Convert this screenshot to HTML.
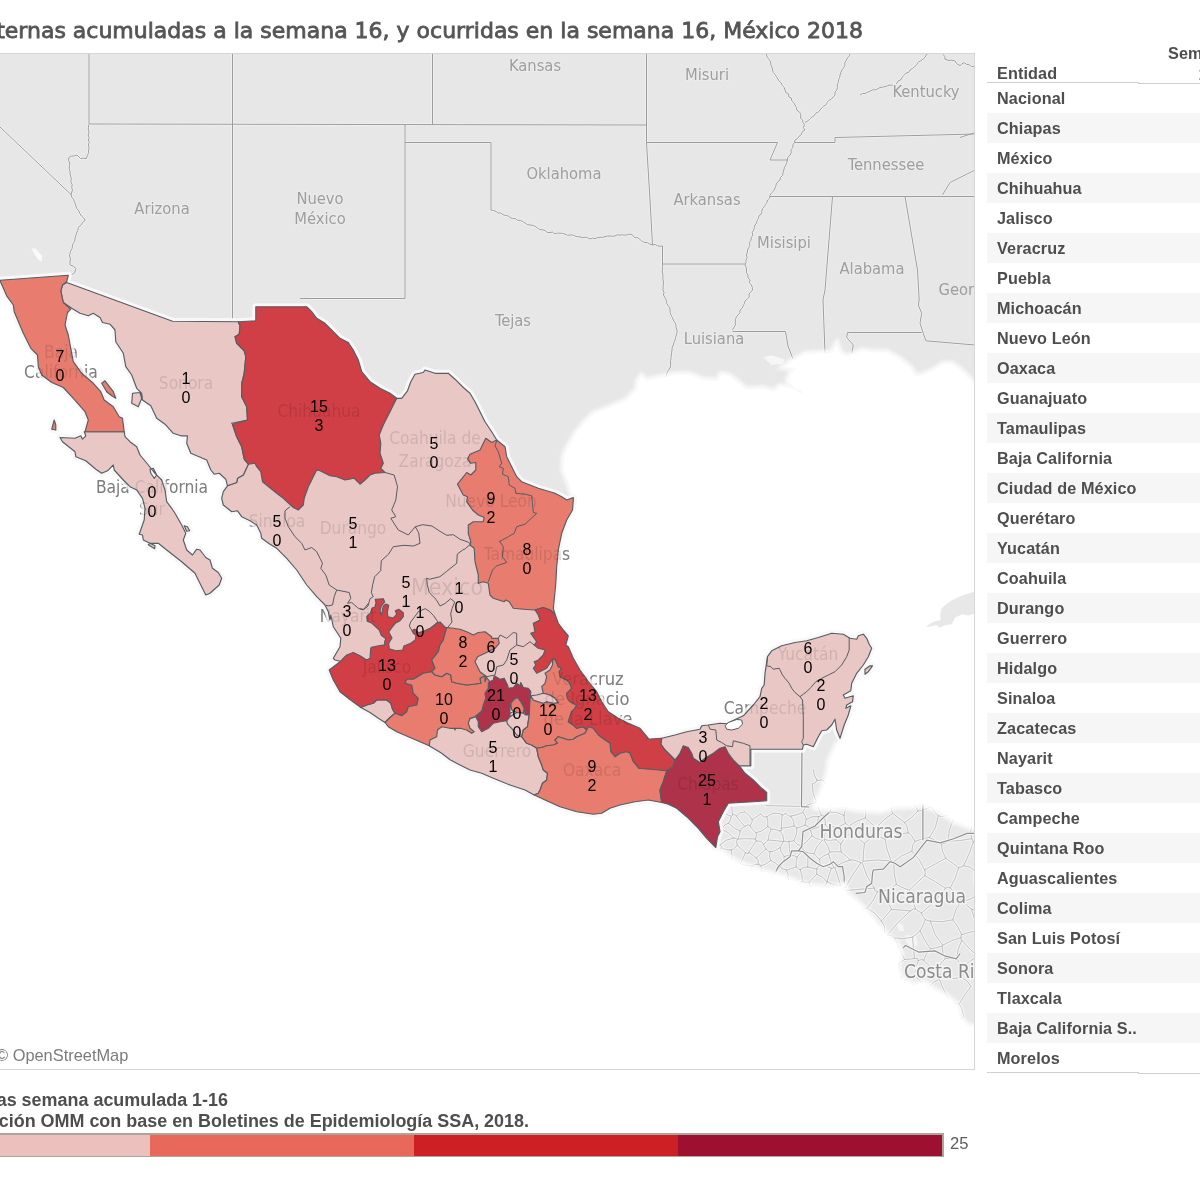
<!DOCTYPE html>
<html lang="es"><head><meta charset="utf-8"><title>Muertes maternas, México 2018</title>
<style>
html,body{margin:0;padding:0;background:#fff;}
body{width:1200px;height:1199px;position:relative;overflow:hidden;font-family:"Liberation Sans",sans-serif;}
.title{position:absolute;right:337px;top:17.5px;white-space:nowrap;font-family:"DejaVu Sans","Liberation Sans",sans-serif;font-weight:normal;font-size:22px;color:#555;line-height:26px;-webkit-text-stroke:0.8px #555;}
.tbl{position:absolute;left:987px;top:83px;width:213px;}
.r{height:30px;line-height:31px;padding-left:10px;font-weight:bold;font-size:16.2px;letter-spacing:0.12px;color:#4e4e4e;white-space:nowrap;box-sizing:border-box;}
.g{background:#f6f6f6;}
.hd{position:absolute;font-weight:bold;font-size:16.2px;letter-spacing:0.12px;color:#4e4e4e;white-space:nowrap;}
.cap{position:absolute;white-space:nowrap;font-weight:bold;font-size:17.95px;color:#4e4e4e;}
</style></head><body>
<div class="title">Muertes maternas acumuladas a la semana 16, y ocurridas en la semana 16, México 2018</div>
<svg width="976" height="1018" viewBox="0 53 976 1018" style="position:absolute;left:0;top:53px;">
<defs><filter id="bl" x="-5%" y="-5%" width="110%" height="110%"><feGaussianBlur stdDeviation="1.6"/></filter><clipPath id="fr"><rect x="0" y="53" width="975" height="1017"/></clipPath></defs>
<g clip-path="url(#fr)">
<rect x="0" y="53" width="975" height="1017" fill="#ffffff"/>
<path d="M-5 50 L980 50 L980 385 L975.8 386.7 L968.3 378.3 L960 370 L951.7 364.2 L943.3 364.2 L935 370 L923.3 375 L915 376.7 L910 368.3 L900 360 L886.7 352.5 L873.3 352.5 L861.7 350.8 L853.3 355 L846.7 356.7 L840 353.3 L836.7 345 L831.7 353.3 L821.7 353.3 L805 354.2 L798.3 358.3 L791.7 361.7 L785 366.7 L796.7 368.3 L791.7 373.3 L788.3 380 L795 388.3 L801.7 390 L803.1 395.2 L793.3 388.8 L780.3 386.6 L773.8 392 L763 388.8 L745.7 389.8 L737 382.2 L728.3 375.8 L721.8 374.7 L717.5 381.2 L702.3 380.1 L689.3 374.7 L676.3 374.7 L659 377.9 L646 381.2 L641.7 376.8 L638.4 381.2 L637.3 389.8 L626.5 400.7 L609.2 408.2 L594 413.7 L585.3 422.3 L576.7 433.2 L570.2 444 L564.8 454.8 L563.7 470 L569.1 483 L573.4 497.1 L560 505 L500 480 L400 440 L300 380 L200 360 L150 340 L80 300 L66 279 L-5 284Z" fill="#e7e7e7"/>
<path d="M763 357.3 L771.7 355.2 L784.7 359.5 L782.5 363.8 L771.7 364.9Z" fill="#f6f6f6"/>
<path d="M715.5 848.1 L734.7 861.4 L758.7 870.8 L780.1 876.1 L801.4 884.1 L814.8 886.8 L833.5 888.1 L844.1 885.5 L846.8 894.8 L854.8 900.2 L865.5 910.8 L876.2 924.2 L886.8 934.9 L897.5 945.5 L900.2 953.5 L897.5 966.9 L900.2 977.6 L913.5 985.6 L924.2 982.9 L934.9 990.9 L945.6 996.2 L956.2 1004.3 L960.2 1017.6 L966.9 1025.6 L978.9 1028.3 L978.9 828.1 L966.9 825.4 L953.6 820.1 L940.2 810.7 L922.9 804.1 L913.5 805.4 L892.2 806.7 L881.5 810.7 L860.2 809.4 L844.1 806.7 L828.1 808.1 L812.1 806.7 L815 806.7 L817 801.7 L821 793 L825 783 L828.3 772 L830 760 L835 750 L838 742 L836.7 730 L830 726.7 L820 733.3 L810 743.3 L786.7 743.3 L745 743.3 L736.7 763.3 L728.3 783.3Z" fill="#e8e8e8"/>
<path d="M925.4 626.7 L933.3 621.7 L940.8 620 L940 615 L941.7 608.3 L950.8 600.8 L963.3 595 L975.8 591.2 L975.8 613.3 L968.3 615.4 L962.5 614.2 L955 617.5 L951.7 624.2 L946.7 625 L939.2 627.5 L936.7 625 L930 626.7Z" fill="#e8e8e8"/>
<path d="M905.6 934.9L916.2 936.2L917.6 945.6L910.9 946.9L905.6 941.6Z M897.5 924.2L902.9 924.2L904.2 930.9L898.9 930.9Z" fill="#f5f5f5"/>
<path d="M89 53 L89 124 M89 124 L646.5 125 M232.5 53 L232.5 321 M432.5 53 L432.5 125 M405 125 L405 298.5 M405 142.5 L491 142.5 L491 210 M300 298.5 L405 298.5 M491 210 L493.5 210.6 L496 211.3 L498 213.1 L500.8 213 L502.9 214.7 L505.3 215.4 L507.9 215.8 L510 217.5 L512.5 218.5 L515.3 218.6 L517.5 220.2 L520.3 220.5 L522.8 221.5 L525 223 L527.3 224.6 L530 225 L532.7 225.3 L535.2 226.4 L537.4 228 L539.7 229.5 L542.5 229.8 L545.1 230.5 L547.2 232.4 L550 232.5 L552.6 232 L554.9 233.8 L557.5 233.1 L560.1 233.1 L562.6 233.4 L565 234 L567.4 235.3 L570 235 L572.6 234.9 L575 236.1 L577.5 236.7 L580 236.8 L582.5 237.6 L585.2 237.2 L587.7 237.7 L590 239 L592.4 238.1 L595 238.6 L597.5 237.7 L600 237.2 L602.5 237.3 L605 236.7 L607.4 236 L610 236 L612.6 236.3 L615 235.9 L617.5 234.8 L620 235.1 L622.5 234.8 L625.1 235.2 L627.5 234.7 L630 234 L632.7 235.1 L634.6 237.6 L637.8 237.7 L640.1 239.5 L642.3 241.5 L645 242.5 L647.7 242.7 L650 244.1 L652.5 245 L655.1 244.4 L657.5 245.8 L660 246.2 L662.5 246 M646.5 53 L646.5 142.5 L650 200 L652.5 245 M646.5 142.5 L777.5 142.5 L770 160 L787.5 160 M662.5 246 L662.5 264 L745 264 M662.5 264 L662.6 266.6 L662.6 269.2 L662.2 271.8 L662.9 274.3 L662.9 276.9 L662.9 279.5 L663.5 282.1 L663.2 284.7 L663.1 287.3 L662.9 289.8 L664 292.4 L663.5 295 L664.8 297.4 L666.2 299.8 L666.4 302.7 L667.6 305.1 L669.5 307.2 L670 310 L670.2 312.7 L671.1 315.2 L672.4 317.6 L673.3 320.1 L674.8 322.3 L675.9 324.8 L676.1 327.5 L677 330 L677 332.6 L676.2 335.1 L675.5 337.6 L675.1 340.2 L673.9 342.5 L673.3 345 L672.2 347.4 L672 350 L671.7 352.6 L671.2 355.1 L671.1 357.7 L670.6 360.3 L670.6 362.9 L670.6 365.5 L670 368 L668 370.7 L666.7 373.7 L666 377 M765 50 L766 52.5 L766.6 55.1 L767.5 57.6 L769.4 59.7 L770.6 62.2 L770.9 64.9 L772 67.3 L772.5 70 L773.4 72.6 L775 74.6 L776.5 76.8 L778 79 L779.2 81.3 L781.4 83 L782.3 85.5 L784.2 87.4 L785 90 L785.8 92.6 L788.6 93.8 L788.8 96.8 L791.4 98.1 L791.8 100.9 L793.8 102.7 L795 105 L796.4 107.4 L796.9 110.3 L799.6 112.1 L800.8 114.6 L800.5 117.9 L802.5 120 L803.1 122.5 L804.5 124.8 L803.4 127.7 L805 130 L802.4 131.4 L801.5 134.5 L799.1 136.1 L797.5 138.5 L795 140 L794.4 142.6 L792.9 144.9 L792.8 147.7 L790.9 149.9 L791.2 152.8 L790 155.2 L787.8 157.3 L787.5 160 L786.7 162.6 L785.8 165.1 L784.5 167.4 L783.8 170 L783 172.6 L782.8 175.3 L780.5 177.3 L780 180 L777.8 181.7 L776.4 183.9 L775.6 186.5 L774.7 189 L773.3 191.3 L771.3 193.1 L770 195.4 L769.5 198.2 L767.5 200 L766.8 202.5 L765.5 204.7 L764.1 206.8 L762.4 208.8 L761.8 211.4 L761.5 214.1 L759 215.6 L758.5 218.2 L757.2 220.4 L756.6 223 L755 225 L754.4 227.5 L753.7 230.1 L752.2 232.3 L752.8 235.2 L751.2 237.5 L751.1 240.2 L749.4 242.4 L749.9 245.3 L748.7 247.6 L747.5 250 L747.4 252.6 L746.4 255 L747.1 257.6 L745.9 260 L746 262.6 L745 265 L746.2 267.4 L746.5 270 L746.4 272.8 L748 275 L747.9 277.8 L750.1 279.8 L749.4 282.7 L751.3 284.9 L752.3 287.3 L752.5 290 L750.7 292 L749 294 L749.2 297.2 L747.3 299.1 L745.1 300.8 L744.4 303.5 L743.2 305.8 L742.2 308.3 L740 310 L739.9 312.8 L737.9 314.9 L736.3 317.2 L735.3 319.6 L735.3 322.5 L735.3 325.3 L733.8 327.6 L732.5 330 M732.5 331.5 L785.5 331.5 L788 346 L793 359 M850 53 L849.5 55.7 L847.5 57.8 L846.4 60.2 L844.9 62.5 L844.8 65.4 L843.7 67.8 L841.9 70 L840.9 72.5 L840 75 L839.7 77.6 L838.5 79.9 L838.3 82.5 L837.1 84.9 L837.5 87.6 L836.7 90.1 L835 92.3 L835 95 L833.3 97 L831.5 99 L829 100.3 L827.4 102.4 L826 104.8 L823.7 106.2 L821.7 107.9 L820 110 L818.2 112.2 L815.6 113.4 L814 115.8 L811.6 117.3 L809.7 119.4 L807.4 121.1 L805 122.5 M795 142.5 L835 142.5 L835 137.5 L975 134 M770 196.5 L975 196.5 M832.5 196.5 L825 290 L823 300 L825 353 M905 196.5 L917.5 270 L919.2 300 L918.3 305 L921.7 313.3 L920 323.3 L923.3 333.3 L925.8 340.8 L975 345 M847.5 332.5 L921.7 332.5 M847.5 332.5 L846.7 337.5 L853.3 345 L851.7 353.3 M860 95 L862.3 93.6 L865.1 93.4 L867.6 92.4 L870 91.2 L872.3 89.9 L875.2 89.8 L877.7 88.9 L880 87.5 L882.5 87.1 L885 86.7 L887.4 85.8 L889.9 85 L892.5 85.2 L895 85 L897 83.2 L898.3 80.8 L901 79.7 L902.2 77.2 L904.1 75.3 L905.7 73.2 L908.7 72.4 L910 70 L912.4 68.5 L914.7 66.9 L916.5 64.8 L918.1 62.3 L920.5 60.9 L922.9 59.3 L925 57.5 L926.2 54.7 L928.9 52.9 L930 50 M942.5 195 L950 182.5 L975 170 M960 137.5 L975 132.5 M88.7 124.7 L88.4 127.2 L88.3 129.8 L89.1 132.3 L88.1 134.9 L89.1 137.4 L88.5 140 L89.2 142.5 L88.4 145.1 L89.1 147.6 L88.5 150.2 L88.7 152.7 L87.3 155.5 L86.4 158.5 L83.5 158.2 L80.5 158.5 L77 155 L74.3 155.9 L71.5 156.2 L68.9 157.4 L68.5 160.2 L69.8 163 L69.5 165.8 L69.2 168.6 L70 171.4 L70.1 174.1 L70.8 176.7 L71.3 179.3 L70.8 182.1 L72.2 184.6 L71.7 187.4 L72.4 190 L71.2 194.7 L71.8 197.2 L73.5 199.2 L74.3 201.6 L75.3 203.9 L76 206.4 L77 208.7 L78.8 210.9 L79.9 213.7 L81.5 216 L83.7 217.9 L85.2 220.4 L82.5 222.4 L80.9 225.4 L78.2 227.4 L78 230.3 L76.6 233 L75.8 235.7 L75 238.5 L74.7 241.4 L73.2 243.5 L72.4 245.9 L72.1 248.5 L70.7 250.7 L70 253.1 L69.5 256 L70.5 258.9 L70 261.9 L70 264.8 L73.2 266.2 L75.9 268.3 L74.7 272.9 L72 274.5 L68.9 275.3 M0 127 L71.2 194.7 M943 54.3 L944.8 56.5 L945 59.3 L949 60.5 L952 60 L955 61 L957.5 64.5 L960.5 65.5 L962 63.5 L964.5 62.8 L966.5 64.3 L969.5 64.8 L971.5 66.8 L975 66" fill="none" stroke="#ffffff" stroke-width="2.2" opacity="0.6"/><path d="M89 53 L89 124 M89 124 L646.5 125 M232.5 53 L232.5 321 M432.5 53 L432.5 125 M405 125 L405 298.5 M405 142.5 L491 142.5 L491 210 M300 298.5 L405 298.5 M491 210 L493.5 210.6 L496 211.3 L498 213.1 L500.8 213 L502.9 214.7 L505.3 215.4 L507.9 215.8 L510 217.5 L512.5 218.5 L515.3 218.6 L517.5 220.2 L520.3 220.5 L522.8 221.5 L525 223 L527.3 224.6 L530 225 L532.7 225.3 L535.2 226.4 L537.4 228 L539.7 229.5 L542.5 229.8 L545.1 230.5 L547.2 232.4 L550 232.5 L552.6 232 L554.9 233.8 L557.5 233.1 L560.1 233.1 L562.6 233.4 L565 234 L567.4 235.3 L570 235 L572.6 234.9 L575 236.1 L577.5 236.7 L580 236.8 L582.5 237.6 L585.2 237.2 L587.7 237.7 L590 239 L592.4 238.1 L595 238.6 L597.5 237.7 L600 237.2 L602.5 237.3 L605 236.7 L607.4 236 L610 236 L612.6 236.3 L615 235.9 L617.5 234.8 L620 235.1 L622.5 234.8 L625.1 235.2 L627.5 234.7 L630 234 L632.7 235.1 L634.6 237.6 L637.8 237.7 L640.1 239.5 L642.3 241.5 L645 242.5 L647.7 242.7 L650 244.1 L652.5 245 L655.1 244.4 L657.5 245.8 L660 246.2 L662.5 246 M646.5 53 L646.5 142.5 L650 200 L652.5 245 M646.5 142.5 L777.5 142.5 L770 160 L787.5 160 M662.5 246 L662.5 264 L745 264 M662.5 264 L662.6 266.6 L662.6 269.2 L662.2 271.8 L662.9 274.3 L662.9 276.9 L662.9 279.5 L663.5 282.1 L663.2 284.7 L663.1 287.3 L662.9 289.8 L664 292.4 L663.5 295 L664.8 297.4 L666.2 299.8 L666.4 302.7 L667.6 305.1 L669.5 307.2 L670 310 L670.2 312.7 L671.1 315.2 L672.4 317.6 L673.3 320.1 L674.8 322.3 L675.9 324.8 L676.1 327.5 L677 330 L677 332.6 L676.2 335.1 L675.5 337.6 L675.1 340.2 L673.9 342.5 L673.3 345 L672.2 347.4 L672 350 L671.7 352.6 L671.2 355.1 L671.1 357.7 L670.6 360.3 L670.6 362.9 L670.6 365.5 L670 368 L668 370.7 L666.7 373.7 L666 377 M765 50 L766 52.5 L766.6 55.1 L767.5 57.6 L769.4 59.7 L770.6 62.2 L770.9 64.9 L772 67.3 L772.5 70 L773.4 72.6 L775 74.6 L776.5 76.8 L778 79 L779.2 81.3 L781.4 83 L782.3 85.5 L784.2 87.4 L785 90 L785.8 92.6 L788.6 93.8 L788.8 96.8 L791.4 98.1 L791.8 100.9 L793.8 102.7 L795 105 L796.4 107.4 L796.9 110.3 L799.6 112.1 L800.8 114.6 L800.5 117.9 L802.5 120 L803.1 122.5 L804.5 124.8 L803.4 127.7 L805 130 L802.4 131.4 L801.5 134.5 L799.1 136.1 L797.5 138.5 L795 140 L794.4 142.6 L792.9 144.9 L792.8 147.7 L790.9 149.9 L791.2 152.8 L790 155.2 L787.8 157.3 L787.5 160 L786.7 162.6 L785.8 165.1 L784.5 167.4 L783.8 170 L783 172.6 L782.8 175.3 L780.5 177.3 L780 180 L777.8 181.7 L776.4 183.9 L775.6 186.5 L774.7 189 L773.3 191.3 L771.3 193.1 L770 195.4 L769.5 198.2 L767.5 200 L766.8 202.5 L765.5 204.7 L764.1 206.8 L762.4 208.8 L761.8 211.4 L761.5 214.1 L759 215.6 L758.5 218.2 L757.2 220.4 L756.6 223 L755 225 L754.4 227.5 L753.7 230.1 L752.2 232.3 L752.8 235.2 L751.2 237.5 L751.1 240.2 L749.4 242.4 L749.9 245.3 L748.7 247.6 L747.5 250 L747.4 252.6 L746.4 255 L747.1 257.6 L745.9 260 L746 262.6 L745 265 L746.2 267.4 L746.5 270 L746.4 272.8 L748 275 L747.9 277.8 L750.1 279.8 L749.4 282.7 L751.3 284.9 L752.3 287.3 L752.5 290 L750.7 292 L749 294 L749.2 297.2 L747.3 299.1 L745.1 300.8 L744.4 303.5 L743.2 305.8 L742.2 308.3 L740 310 L739.9 312.8 L737.9 314.9 L736.3 317.2 L735.3 319.6 L735.3 322.5 L735.3 325.3 L733.8 327.6 L732.5 330 M732.5 331.5 L785.5 331.5 L788 346 L793 359 M850 53 L849.5 55.7 L847.5 57.8 L846.4 60.2 L844.9 62.5 L844.8 65.4 L843.7 67.8 L841.9 70 L840.9 72.5 L840 75 L839.7 77.6 L838.5 79.9 L838.3 82.5 L837.1 84.9 L837.5 87.6 L836.7 90.1 L835 92.3 L835 95 L833.3 97 L831.5 99 L829 100.3 L827.4 102.4 L826 104.8 L823.7 106.2 L821.7 107.9 L820 110 L818.2 112.2 L815.6 113.4 L814 115.8 L811.6 117.3 L809.7 119.4 L807.4 121.1 L805 122.5 M795 142.5 L835 142.5 L835 137.5 L975 134 M770 196.5 L975 196.5 M832.5 196.5 L825 290 L823 300 L825 353 M905 196.5 L917.5 270 L919.2 300 L918.3 305 L921.7 313.3 L920 323.3 L923.3 333.3 L925.8 340.8 L975 345 M847.5 332.5 L921.7 332.5 M847.5 332.5 L846.7 337.5 L853.3 345 L851.7 353.3 M860 95 L862.3 93.6 L865.1 93.4 L867.6 92.4 L870 91.2 L872.3 89.9 L875.2 89.8 L877.7 88.9 L880 87.5 L882.5 87.1 L885 86.7 L887.4 85.8 L889.9 85 L892.5 85.2 L895 85 L897 83.2 L898.3 80.8 L901 79.7 L902.2 77.2 L904.1 75.3 L905.7 73.2 L908.7 72.4 L910 70 L912.4 68.5 L914.7 66.9 L916.5 64.8 L918.1 62.3 L920.5 60.9 L922.9 59.3 L925 57.5 L926.2 54.7 L928.9 52.9 L930 50 M942.5 195 L950 182.5 L975 170 M960 137.5 L975 132.5 M88.7 124.7 L88.4 127.2 L88.3 129.8 L89.1 132.3 L88.1 134.9 L89.1 137.4 L88.5 140 L89.2 142.5 L88.4 145.1 L89.1 147.6 L88.5 150.2 L88.7 152.7 L87.3 155.5 L86.4 158.5 L83.5 158.2 L80.5 158.5 L77 155 L74.3 155.9 L71.5 156.2 L68.9 157.4 L68.5 160.2 L69.8 163 L69.5 165.8 L69.2 168.6 L70 171.4 L70.1 174.1 L70.8 176.7 L71.3 179.3 L70.8 182.1 L72.2 184.6 L71.7 187.4 L72.4 190 L71.2 194.7 L71.8 197.2 L73.5 199.2 L74.3 201.6 L75.3 203.9 L76 206.4 L77 208.7 L78.8 210.9 L79.9 213.7 L81.5 216 L83.7 217.9 L85.2 220.4 L82.5 222.4 L80.9 225.4 L78.2 227.4 L78 230.3 L76.6 233 L75.8 235.7 L75 238.5 L74.7 241.4 L73.2 243.5 L72.4 245.9 L72.1 248.5 L70.7 250.7 L70 253.1 L69.5 256 L70.5 258.9 L70 261.9 L70 264.8 L73.2 266.2 L75.9 268.3 L74.7 272.9 L72 274.5 L68.9 275.3 M0 127 L71.2 194.7 M943 54.3 L944.8 56.5 L945 59.3 L949 60.5 L952 60 L955 61 L957.5 64.5 L960.5 65.5 L962 63.5 L964.5 62.8 L966.5 64.3 L969.5 64.8 L971.5 66.8 L975 66" fill="none" stroke="#9c9c9c" stroke-width="1"/><path d="M31.5 248.4 L35 248.4 L42 255.4 L42 261.2 L38.5 260 L33.8 253Z" fill="#fafafa"/><path d="M960.5 1018.0L962.8 1018.0L963.6 1016.5 M963.6 1016.5L962.1 1010.0L959.3 1003.8 M959.3 1003.8L964.8 994.9L971.0 986.4 M977.4 895.0L974.6 884.0L974.6 870.9 M974.6 870.9L976.9 870.4L978.9 870.5 M964.5 901.0L963.1 901.7L961.5 901.0 M964.5 901.0L970.6 899.0L977.4 895.0 M961.5 901.0L957.0 894.2L950.1 888.0 M963.6 865.7L960.0 867.5L958.6 867.7 M963.6 865.7L970.6 867.3L974.6 870.9 M950.1 888.0L955.0 878.8L958.6 867.7 M963.6 865.7L969.7 852.6L973.3 841.7 M973.3 841.7L974.9 844.1L978.9 843.5 M971.7 826.5L970.6 831.6L971.7 838.7 M973.3 841.7L972.7 840.0L971.7 838.7 M863.7 909.1L866.1 907.7L867.0 908.3 M884.7 932.7L884.3 926.0L881.4 921.0 M867.0 908.3L875.0 913.3L881.4 921.0 M960.9 937.5L961.2 934.6L961.7 934.6 M960.9 937.5L951.3 940.8L942.8 945.2 M961.7 934.6L957.9 927.1L952.8 919.8 M942.8 945.2L935.2 934.6L930.3 921.1 M952.8 919.8L942.7 921.7L930.3 921.1 M978.9 911.7L974.5 910.1L971.5 909.2 M971.5 909.2L974.4 918.2L978.9 929.4 M964.5 901.0L966.6 905.1L971.5 909.2 M961.5 901.0L956.0 909.4L952.8 919.8 M961.7 934.6L971.4 932.0L978.9 929.4 M942.2 946.1L935.3 948.0L930.4 948.8 M930.3 921.1L927.1 920.4L925.3 919.6 M930.4 948.8L924.6 939.8L920.1 930.8 M925.3 919.6L923.1 925.3L920.1 930.8 M959.3 1003.8L956.4 1004.1L954.1 1002.7 M971.0 986.4L967.0 980.9L960.8 977.3 M939.5 979.2L942.5 987.4L947.8 997.9 M960.8 977.3L952.0 978.9L940.2 977.8 M942.2 946.1L943.0 953.7L945.4 958.5 M930.4 948.8L926.1 954.7L923.6 960.4 M923.6 960.4L930.8 966.9L937.9 971.0 M945.4 958.5L940.3 964.2L937.9 971.0 M950.1 888.0L948.1 886.9L945.5 888.3 M925.3 919.6L922.6 916.1L921.6 912.8 M945.5 888.3L934.7 901.4L921.6 912.8 M717.8 842.6L719.1 838.5L718.5 832.8 M731.6 859.2L732.0 855.6L731.2 849.9 M731.2 849.9L726.8 849.7L721.3 848.0 M721.3 848.0L720.1 848.7L720.2 851.3 M717.8 842.6L719.6 842.9L719.9 845.2 M719.9 845.2L721.9 846.9L721.3 848.0 M956.8 958.1L959.2 963.3L962.5 965.8 M956.8 958.1L958.3 949.2L961.8 940.2 M962.5 965.8L968.7 962.3L977.3 955.9 M961.8 940.2L969.8 949.0L977.3 955.9 M960.8 977.3L961.0 972.5L962.5 965.8 M945.4 958.5L951.7 958.7L956.8 958.1 M937.9 971.0L940.4 974.2L940.2 977.8 M960.9 937.5L961.1 939.4L961.8 940.2 M897.9 968.4L899.5 965.4L899.1 963.3 M887.2 935.0L891.5 935.5L894.8 937.8 M894.8 937.8L899.8 949.5L904.6 959.5 M899.1 963.3L900.5 962.1L904.6 959.5 M912.6 937.1L902.2 938.8L894.8 937.8 M912.6 937.1L913.4 947.5L914.4 958.5 M904.6 959.5L910.1 959.1L914.4 958.5 M923.6 960.4L921.7 959.3L918.3 960.7 M920.1 930.8L916.6 934.1L912.6 937.1 M914.4 958.5L917.6 958.3L918.3 960.7 M921.6 912.8L918.4 911.3L915.6 908.9 M887.2 935.0L898.9 921.7L910.3 910.9 M910.3 910.9L913.2 909.1L915.6 908.9 M881.4 921.0L885.5 916.4L891.4 909.5 M910.3 910.9L900.0 910.0L891.4 909.5 M867.0 908.3L873.0 900.6L877.6 891.6 M877.6 891.6L880.9 892.3L884.0 891.2 M891.4 909.5L887.6 900.7L884.0 891.2 M945.8 858.3L953.2 863.5L958.6 867.7 M945.8 858.3L935.6 863.8L924.6 869.9 M945.5 888.3L935.3 881.7L924.8 875.7 M924.6 869.9L925.4 872.4L924.8 875.7 M915.6 908.9L912.3 900.3L909.3 890.2 M924.8 875.7L917.1 882.5L909.3 890.2 M884.0 891.2L891.2 887.5L896.4 884.5 M909.3 890.2L903.9 888.2L896.4 884.5 M971.7 838.7L959.7 840.6L948.0 841.1 M945.8 858.3L942.3 850.9L941.6 844.1 M941.6 844.1L945.9 842.9L948.0 841.1 M865.4 817.9L871.0 823.3L876.2 827.8 M865.4 817.9L865.9 814.1L865.3 809.7 M876.2 827.8L884.2 819.6L892.7 813.3 M892.7 813.3L891.3 809.6L891.2 807.1 M760.7 813.9L763.6 816.9L766.8 816.9 M773.7 813.2L769.8 814.9L766.8 816.9 M803.2 811.3L804.7 808.5L806.9 805.2 M779.5 830.8L781.7 830.6L781.3 828.2 M779.5 830.8L775.0 829.3L771.2 829.3 M771.2 829.3L770.6 828.0L767.8 826.6 M767.8 826.6L767.8 820.5L766.8 816.9 M773.7 813.2L779.0 813.5L782.2 814.8 M781.3 828.2L781.7 820.6L782.2 814.8 M782.2 814.8L783.4 815.1L785.2 813.3 M875.2 833.5L876.7 830.6L876.2 827.8 M875.2 833.5L870.7 838.3L864.5 843.4 M864.5 843.4L857.8 838.1L851.9 832.5 M865.4 817.9L856.3 821.4L849.0 825.9 M851.9 832.5L851.1 830.0L849.0 825.9 M877.6 891.6L874.7 890.6L874.5 888.1 M874.5 888.1L861.0 889.2L845.6 890.5 M874.5 888.1L866.9 875.8L862.0 862.3 M860.9 862.7L852.1 875.9L844.9 888.2 M740.8 863.8L746.5 865.2L753.0 865.9 M751.7 868.1L751.6 866.9L753.0 865.9 M740.2 863.5L742.9 858.6L745.5 852.8 M731.2 849.9L733.4 849.0L737.4 845.3 M737.4 845.3L740.9 848.5L745.5 852.8 M719.9 845.2L726.1 840.3L733.7 838.0 M719.1 829.8L720.1 830.3L721.6 829.2 M733.7 838.0L728.2 832.7L721.6 829.2 M737.4 845.3L736.4 841.8L737.6 839.4 M733.7 838.0L736.4 838.7L737.6 839.4 M914.6 975.5L910.8 978.3L904.4 980.1 M914.6 975.5L919.0 980.2L922.7 983.3 M900.0 977.0L901.9 977.5L902.3 978.9 M918.3 960.7L915.7 967.9L914.6 975.5 M939.5 979.2L934.3 981.9L929.2 986.7 M891.0 860.8L892.2 861.7L893.7 861.7 M891.0 860.8L886.9 848.8L885.0 839.1 M893.7 861.7L901.8 855.8L911.9 851.2 M885.0 839.1L898.0 834.5L908.3 832.7 M911.9 851.2L912.6 845.3L915.1 841.4 M915.1 841.4L911.6 835.6L908.3 832.7 M863.1 861.2L876.9 860.0L891.0 860.8 M896.4 884.5L894.3 874.0L893.7 861.7 M875.2 833.5L879.2 836.7L885.0 839.1 M864.5 843.4L863.5 852.0L863.1 861.2 M924.6 869.9L919.2 859.5L911.9 851.2 M904.8 822.6L900.0 819.1L892.7 813.3 M904.8 822.6L907.0 826.3L908.3 832.7 M929.5 837.4L936.0 841.1L941.6 844.1 M929.5 837.4L923.1 838.5L915.1 841.4 M929.5 837.4L935.3 827.7L938.4 815.6 M948.0 841.1L949.4 829.9L953.1 819.8 M938.4 815.6L941.3 816.6L947.1 815.6 M785.2 813.3L789.2 816.2L790.8 816.1 M803.0 812.4L797.2 814.7L790.8 816.1 M781.3 828.2L788.2 827.3L794.0 826.0 M790.8 816.1L793.7 821.4L794.0 826.0 M836.1 839.7L838.0 841.8L840.9 843.8 M836.1 839.7L828.8 840.3L824.3 839.5 M829.9 852.0L836.1 851.7L841.2 851.9 M829.9 852.0L828.0 846.7L824.0 839.9 M841.2 851.9L840.5 846.5L840.9 843.8 M851.9 832.5L845.3 837.2L840.9 843.8 M849.0 825.9L846.7 824.5L845.6 823.4 M845.6 823.4L844.0 824.1L839.8 826.2 M839.8 826.2L839.2 833.5L836.1 839.7 M839.8 826.2L835.1 826.6L828.2 827.6 M828.2 827.6L824.8 834.4L824.3 839.5 M860.9 862.7L854.7 860.2L850.1 860.0 M850.1 860.0L846.5 856.5L841.2 851.9 M753.0 865.9L754.6 864.4L757.9 864.4 M761.3 871.4L762.1 868.1L760.3 866.1 M757.9 864.4L759.7 864.1L760.3 866.1 M737.8 839.1L739.9 833.9L740.1 830.9 M721.6 829.2L725.0 824.8L728.4 823.2 M728.4 823.2L734.4 828.1L740.1 830.9 M722.4 813.0L725.6 813.9L731.2 816.3 M728.4 823.2L730.6 820.0L731.2 816.3 M731.3 776.2L731.3 796.1L732.4 815.3 M827.1 881.8L833.8 884.8L840.7 885.6 M827.1 881.8L828.7 875.8L831.5 868.3 M840.7 885.6L838.1 877.3L834.8 867.5 M831.5 868.3L832.2 868.6L833.7 867.5 M823.4 887.4L825.8 884.3L827.1 881.8 M811.9 886.2L809.2 885.6L809.5 882.1 M809.5 882.1L813.8 877.3L816.8 874.2 M816.8 874.2L822.7 877.3L827.1 881.8 M816.8 874.2L816.7 872.7L816.8 869.1 M816.8 869.1L818.0 866.7L819.4 865.7 M819.4 865.7L824.9 865.7L831.5 868.3 M850.1 860.0L841.6 863.1L834.8 867.5 M828.6 853.8L830.2 859.3L833.7 867.5 M828.6 853.8L823.9 855.7L819.5 859.2 M819.5 859.2L820.2 863.7L819.4 865.7 M829.9 852.0L828.6 853.1L828.6 853.8 M917.9 811.0L916.1 806.9L914.2 805.3 M917.9 811.0L923.0 810.1L930.4 807.0 M904.8 822.6L911.2 817.7L917.9 811.0 M938.4 815.6L934.1 811.9L932.4 807.7 M819.5 859.2L817.8 857.5L813.9 853.7 M822.6 840.0L816.8 846.9L813.9 853.7 M845.6 823.4L844.4 820.2L844.0 815.4 M828.2 827.6L825.5 825.3L825.4 824.3 M825.4 824.3L825.0 820.0L822.9 815.9 M822.9 815.9L826.4 815.5L830.2 812.2 M844.0 815.4L836.6 812.4L830.2 812.2 M844.0 815.4L845.2 810.2L847.0 807.2 M816.1 801.1L813.0 792.7L812.4 784.0 M812.4 784.0L816.0 782.2L816.9 780.0 M824.8 783.5L823.4 781.2L821.2 779.8 M816.9 780.0L819.2 780.7L821.2 779.8 M817.8 807.2L819.9 812.1L821.5 815.2 M830.2 812.2L830.4 809.2L830.3 807.9 M806.9 805.2L811.5 803.7L815.5 802.2 M813.6 769.5L814.2 775.1L816.9 780.0 M773.6 874.5L777.9 869.5L780.2 866.8 M760.3 866.1L765.7 864.0L770.8 860.5 M780.2 866.8L775.2 862.9L770.8 860.5 M748.8 852.3L752.3 846.7L756.4 840.9 M748.8 852.3L753.1 855.4L756.2 858.2 M756.2 858.2L759.9 854.5L766.0 848.9 M756.4 840.9L761.3 841.4L763.5 844.3 M763.5 844.3L764.0 845.6L766.0 848.9 M745.5 852.8L748.2 853.8L748.8 852.3 M755.6 839.0L745.3 838.6L737.8 839.1 M755.6 839.0L755.1 839.9L756.4 840.9 M757.9 864.4L758.3 860.0L756.2 858.2 M770.8 860.5L769.5 856.1L770.2 851.7 M770.2 851.7L768.2 851.0L766.0 848.9 M771.2 829.3L769.4 833.6L768.1 840.0 M767.8 826.6L761.4 831.1L756.0 832.7 M756.0 832.7L756.5 834.7L755.6 839.0 M768.1 840.0L766.7 841.6L763.5 844.3 M750.0 825.8L748.2 824.6L744.8 826.4 M750.0 825.8L752.2 821.7L752.2 819.6 M744.8 826.4L740.5 821.7L736.5 815.9 M752.2 819.6L748.5 814.7L744.7 811.8 M744.7 811.8L739.5 813.2L736.5 815.9 M756.0 832.7L751.6 828.4L750.0 825.8 M740.1 830.9L741.3 828.6L744.8 826.4 M760.7 813.9L756.1 817.0L752.2 819.6 M732.4 815.3L733.8 814.2L736.5 815.9 M809.5 882.1L805.5 882.5L802.5 881.3 M799.7 883.5L800.4 882.1L802.5 881.3 M789.0 879.5L789.0 878.3L787.5 877.8 M803.0 812.4L805.8 817.2L806.2 819.5 M821.5 815.2L819.5 816.5L818.7 816.5 M806.2 819.5L811.7 816.9L818.7 816.5 M825.4 824.3L819.3 826.7L813.6 828.6 M818.7 816.5L817.5 821.5L813.6 828.6 M768.1 840.0L776.4 840.7L783.4 841.6 M770.2 851.7L774.1 851.0L780.3 847.5 M780.3 847.5L782.4 843.4L783.4 841.6 M779.5 830.8L782.8 834.8L783.7 841.1 M780.3 847.5L781.1 851.6L784.3 856.6 M780.6 866.7L783.8 860.3L784.3 856.6 M787.5 877.8L788.2 874.2L786.4 870.0 M780.6 866.7L782.2 868.5L786.4 870.0 M788.9 841.3L789.5 848.7L790.3 855.8 M788.9 841.3L787.1 841.7L783.7 841.1 M784.3 856.6L788.8 855.2L790.3 855.8 M811.7 835.8L807.8 840.6L801.9 845.9 M811.7 835.8L811.9 834.4L810.4 830.7 M810.4 830.7L809.3 827.2L805.2 825.1 M793.7 840.7L797.7 844.6L801.9 845.9 M793.7 840.7L796.6 834.0L796.7 828.0 M796.7 828.0L802.3 826.2L805.2 825.1 M822.6 840.0L816.8 838.7L811.7 835.8 M813.6 828.6L811.9 829.5L810.4 830.7 M806.2 819.5L805.4 822.1L805.2 825.1 M794.0 826.0L794.3 825.7L796.7 828.0 M788.9 841.3L792.1 841.2L793.7 840.7 M800.3 869.6L798.8 869.1L796.2 866.8 M800.3 869.6L803.3 867.5L807.8 867.0 M796.2 866.8L796.1 861.4L797.2 857.1 M807.8 867.0L807.9 859.3L806.5 852.3 M797.2 857.1L799.6 854.2L803.1 850.4 M803.1 850.4L803.9 850.2L806.5 852.3 M802.5 881.3L802.0 876.2L800.3 869.6 M786.4 870.0L790.7 868.8L796.2 866.8 M816.8 869.1L810.9 867.7L807.8 867.0 M790.3 855.8L794.0 855.7L797.2 857.1 M813.9 853.7L809.7 853.3L806.5 852.3 M801.9 845.9L802.8 847.1L803.1 850.4 M766 805.5 L801.5 806.5" fill="none" stroke="#fafafa" stroke-width="3.2" opacity="0.6" stroke-linecap="round"/><path d="M960.5 1018.0L962.8 1018.0L963.6 1016.5 M963.6 1016.5L962.1 1010.0L959.3 1003.8 M959.3 1003.8L964.8 994.9L971.0 986.4 M977.4 895.0L974.6 884.0L974.6 870.9 M974.6 870.9L976.9 870.4L978.9 870.5 M964.5 901.0L963.1 901.7L961.5 901.0 M964.5 901.0L970.6 899.0L977.4 895.0 M961.5 901.0L957.0 894.2L950.1 888.0 M963.6 865.7L960.0 867.5L958.6 867.7 M963.6 865.7L970.6 867.3L974.6 870.9 M950.1 888.0L955.0 878.8L958.6 867.7 M963.6 865.7L969.7 852.6L973.3 841.7 M973.3 841.7L974.9 844.1L978.9 843.5 M971.7 826.5L970.6 831.6L971.7 838.7 M973.3 841.7L972.7 840.0L971.7 838.7 M863.7 909.1L866.1 907.7L867.0 908.3 M884.7 932.7L884.3 926.0L881.4 921.0 M867.0 908.3L875.0 913.3L881.4 921.0 M960.9 937.5L961.2 934.6L961.7 934.6 M960.9 937.5L951.3 940.8L942.8 945.2 M961.7 934.6L957.9 927.1L952.8 919.8 M942.8 945.2L935.2 934.6L930.3 921.1 M952.8 919.8L942.7 921.7L930.3 921.1 M978.9 911.7L974.5 910.1L971.5 909.2 M971.5 909.2L974.4 918.2L978.9 929.4 M964.5 901.0L966.6 905.1L971.5 909.2 M961.5 901.0L956.0 909.4L952.8 919.8 M961.7 934.6L971.4 932.0L978.9 929.4 M942.2 946.1L935.3 948.0L930.4 948.8 M930.3 921.1L927.1 920.4L925.3 919.6 M930.4 948.8L924.6 939.8L920.1 930.8 M925.3 919.6L923.1 925.3L920.1 930.8 M959.3 1003.8L956.4 1004.1L954.1 1002.7 M971.0 986.4L967.0 980.9L960.8 977.3 M939.5 979.2L942.5 987.4L947.8 997.9 M960.8 977.3L952.0 978.9L940.2 977.8 M942.2 946.1L943.0 953.7L945.4 958.5 M930.4 948.8L926.1 954.7L923.6 960.4 M923.6 960.4L930.8 966.9L937.9 971.0 M945.4 958.5L940.3 964.2L937.9 971.0 M950.1 888.0L948.1 886.9L945.5 888.3 M925.3 919.6L922.6 916.1L921.6 912.8 M945.5 888.3L934.7 901.4L921.6 912.8 M717.8 842.6L719.1 838.5L718.5 832.8 M731.6 859.2L732.0 855.6L731.2 849.9 M731.2 849.9L726.8 849.7L721.3 848.0 M721.3 848.0L720.1 848.7L720.2 851.3 M717.8 842.6L719.6 842.9L719.9 845.2 M719.9 845.2L721.9 846.9L721.3 848.0 M956.8 958.1L959.2 963.3L962.5 965.8 M956.8 958.1L958.3 949.2L961.8 940.2 M962.5 965.8L968.7 962.3L977.3 955.9 M961.8 940.2L969.8 949.0L977.3 955.9 M960.8 977.3L961.0 972.5L962.5 965.8 M945.4 958.5L951.7 958.7L956.8 958.1 M937.9 971.0L940.4 974.2L940.2 977.8 M960.9 937.5L961.1 939.4L961.8 940.2 M897.9 968.4L899.5 965.4L899.1 963.3 M887.2 935.0L891.5 935.5L894.8 937.8 M894.8 937.8L899.8 949.5L904.6 959.5 M899.1 963.3L900.5 962.1L904.6 959.5 M912.6 937.1L902.2 938.8L894.8 937.8 M912.6 937.1L913.4 947.5L914.4 958.5 M904.6 959.5L910.1 959.1L914.4 958.5 M923.6 960.4L921.7 959.3L918.3 960.7 M920.1 930.8L916.6 934.1L912.6 937.1 M914.4 958.5L917.6 958.3L918.3 960.7 M921.6 912.8L918.4 911.3L915.6 908.9 M887.2 935.0L898.9 921.7L910.3 910.9 M910.3 910.9L913.2 909.1L915.6 908.9 M881.4 921.0L885.5 916.4L891.4 909.5 M910.3 910.9L900.0 910.0L891.4 909.5 M867.0 908.3L873.0 900.6L877.6 891.6 M877.6 891.6L880.9 892.3L884.0 891.2 M891.4 909.5L887.6 900.7L884.0 891.2 M945.8 858.3L953.2 863.5L958.6 867.7 M945.8 858.3L935.6 863.8L924.6 869.9 M945.5 888.3L935.3 881.7L924.8 875.7 M924.6 869.9L925.4 872.4L924.8 875.7 M915.6 908.9L912.3 900.3L909.3 890.2 M924.8 875.7L917.1 882.5L909.3 890.2 M884.0 891.2L891.2 887.5L896.4 884.5 M909.3 890.2L903.9 888.2L896.4 884.5 M971.7 838.7L959.7 840.6L948.0 841.1 M945.8 858.3L942.3 850.9L941.6 844.1 M941.6 844.1L945.9 842.9L948.0 841.1 M865.4 817.9L871.0 823.3L876.2 827.8 M865.4 817.9L865.9 814.1L865.3 809.7 M876.2 827.8L884.2 819.6L892.7 813.3 M892.7 813.3L891.3 809.6L891.2 807.1 M760.7 813.9L763.6 816.9L766.8 816.9 M773.7 813.2L769.8 814.9L766.8 816.9 M803.2 811.3L804.7 808.5L806.9 805.2 M779.5 830.8L781.7 830.6L781.3 828.2 M779.5 830.8L775.0 829.3L771.2 829.3 M771.2 829.3L770.6 828.0L767.8 826.6 M767.8 826.6L767.8 820.5L766.8 816.9 M773.7 813.2L779.0 813.5L782.2 814.8 M781.3 828.2L781.7 820.6L782.2 814.8 M782.2 814.8L783.4 815.1L785.2 813.3 M875.2 833.5L876.7 830.6L876.2 827.8 M875.2 833.5L870.7 838.3L864.5 843.4 M864.5 843.4L857.8 838.1L851.9 832.5 M865.4 817.9L856.3 821.4L849.0 825.9 M851.9 832.5L851.1 830.0L849.0 825.9 M877.6 891.6L874.7 890.6L874.5 888.1 M874.5 888.1L861.0 889.2L845.6 890.5 M874.5 888.1L866.9 875.8L862.0 862.3 M860.9 862.7L852.1 875.9L844.9 888.2 M740.8 863.8L746.5 865.2L753.0 865.9 M751.7 868.1L751.6 866.9L753.0 865.9 M740.2 863.5L742.9 858.6L745.5 852.8 M731.2 849.9L733.4 849.0L737.4 845.3 M737.4 845.3L740.9 848.5L745.5 852.8 M719.9 845.2L726.1 840.3L733.7 838.0 M719.1 829.8L720.1 830.3L721.6 829.2 M733.7 838.0L728.2 832.7L721.6 829.2 M737.4 845.3L736.4 841.8L737.6 839.4 M733.7 838.0L736.4 838.7L737.6 839.4 M914.6 975.5L910.8 978.3L904.4 980.1 M914.6 975.5L919.0 980.2L922.7 983.3 M900.0 977.0L901.9 977.5L902.3 978.9 M918.3 960.7L915.7 967.9L914.6 975.5 M939.5 979.2L934.3 981.9L929.2 986.7 M891.0 860.8L892.2 861.7L893.7 861.7 M891.0 860.8L886.9 848.8L885.0 839.1 M893.7 861.7L901.8 855.8L911.9 851.2 M885.0 839.1L898.0 834.5L908.3 832.7 M911.9 851.2L912.6 845.3L915.1 841.4 M915.1 841.4L911.6 835.6L908.3 832.7 M863.1 861.2L876.9 860.0L891.0 860.8 M896.4 884.5L894.3 874.0L893.7 861.7 M875.2 833.5L879.2 836.7L885.0 839.1 M864.5 843.4L863.5 852.0L863.1 861.2 M924.6 869.9L919.2 859.5L911.9 851.2 M904.8 822.6L900.0 819.1L892.7 813.3 M904.8 822.6L907.0 826.3L908.3 832.7 M929.5 837.4L936.0 841.1L941.6 844.1 M929.5 837.4L923.1 838.5L915.1 841.4 M929.5 837.4L935.3 827.7L938.4 815.6 M948.0 841.1L949.4 829.9L953.1 819.8 M938.4 815.6L941.3 816.6L947.1 815.6 M785.2 813.3L789.2 816.2L790.8 816.1 M803.0 812.4L797.2 814.7L790.8 816.1 M781.3 828.2L788.2 827.3L794.0 826.0 M790.8 816.1L793.7 821.4L794.0 826.0 M836.1 839.7L838.0 841.8L840.9 843.8 M836.1 839.7L828.8 840.3L824.3 839.5 M829.9 852.0L836.1 851.7L841.2 851.9 M829.9 852.0L828.0 846.7L824.0 839.9 M841.2 851.9L840.5 846.5L840.9 843.8 M851.9 832.5L845.3 837.2L840.9 843.8 M849.0 825.9L846.7 824.5L845.6 823.4 M845.6 823.4L844.0 824.1L839.8 826.2 M839.8 826.2L839.2 833.5L836.1 839.7 M839.8 826.2L835.1 826.6L828.2 827.6 M828.2 827.6L824.8 834.4L824.3 839.5 M860.9 862.7L854.7 860.2L850.1 860.0 M850.1 860.0L846.5 856.5L841.2 851.9 M753.0 865.9L754.6 864.4L757.9 864.4 M761.3 871.4L762.1 868.1L760.3 866.1 M757.9 864.4L759.7 864.1L760.3 866.1 M737.8 839.1L739.9 833.9L740.1 830.9 M721.6 829.2L725.0 824.8L728.4 823.2 M728.4 823.2L734.4 828.1L740.1 830.9 M722.4 813.0L725.6 813.9L731.2 816.3 M728.4 823.2L730.6 820.0L731.2 816.3 M731.3 776.2L731.3 796.1L732.4 815.3 M827.1 881.8L833.8 884.8L840.7 885.6 M827.1 881.8L828.7 875.8L831.5 868.3 M840.7 885.6L838.1 877.3L834.8 867.5 M831.5 868.3L832.2 868.6L833.7 867.5 M823.4 887.4L825.8 884.3L827.1 881.8 M811.9 886.2L809.2 885.6L809.5 882.1 M809.5 882.1L813.8 877.3L816.8 874.2 M816.8 874.2L822.7 877.3L827.1 881.8 M816.8 874.2L816.7 872.7L816.8 869.1 M816.8 869.1L818.0 866.7L819.4 865.7 M819.4 865.7L824.9 865.7L831.5 868.3 M850.1 860.0L841.6 863.1L834.8 867.5 M828.6 853.8L830.2 859.3L833.7 867.5 M828.6 853.8L823.9 855.7L819.5 859.2 M819.5 859.2L820.2 863.7L819.4 865.7 M829.9 852.0L828.6 853.1L828.6 853.8 M917.9 811.0L916.1 806.9L914.2 805.3 M917.9 811.0L923.0 810.1L930.4 807.0 M904.8 822.6L911.2 817.7L917.9 811.0 M938.4 815.6L934.1 811.9L932.4 807.7 M819.5 859.2L817.8 857.5L813.9 853.7 M822.6 840.0L816.8 846.9L813.9 853.7 M845.6 823.4L844.4 820.2L844.0 815.4 M828.2 827.6L825.5 825.3L825.4 824.3 M825.4 824.3L825.0 820.0L822.9 815.9 M822.9 815.9L826.4 815.5L830.2 812.2 M844.0 815.4L836.6 812.4L830.2 812.2 M844.0 815.4L845.2 810.2L847.0 807.2 M816.1 801.1L813.0 792.7L812.4 784.0 M812.4 784.0L816.0 782.2L816.9 780.0 M824.8 783.5L823.4 781.2L821.2 779.8 M816.9 780.0L819.2 780.7L821.2 779.8 M817.8 807.2L819.9 812.1L821.5 815.2 M830.2 812.2L830.4 809.2L830.3 807.9 M806.9 805.2L811.5 803.7L815.5 802.2 M813.6 769.5L814.2 775.1L816.9 780.0 M773.6 874.5L777.9 869.5L780.2 866.8 M760.3 866.1L765.7 864.0L770.8 860.5 M780.2 866.8L775.2 862.9L770.8 860.5 M748.8 852.3L752.3 846.7L756.4 840.9 M748.8 852.3L753.1 855.4L756.2 858.2 M756.2 858.2L759.9 854.5L766.0 848.9 M756.4 840.9L761.3 841.4L763.5 844.3 M763.5 844.3L764.0 845.6L766.0 848.9 M745.5 852.8L748.2 853.8L748.8 852.3 M755.6 839.0L745.3 838.6L737.8 839.1 M755.6 839.0L755.1 839.9L756.4 840.9 M757.9 864.4L758.3 860.0L756.2 858.2 M770.8 860.5L769.5 856.1L770.2 851.7 M770.2 851.7L768.2 851.0L766.0 848.9 M771.2 829.3L769.4 833.6L768.1 840.0 M767.8 826.6L761.4 831.1L756.0 832.7 M756.0 832.7L756.5 834.7L755.6 839.0 M768.1 840.0L766.7 841.6L763.5 844.3 M750.0 825.8L748.2 824.6L744.8 826.4 M750.0 825.8L752.2 821.7L752.2 819.6 M744.8 826.4L740.5 821.7L736.5 815.9 M752.2 819.6L748.5 814.7L744.7 811.8 M744.7 811.8L739.5 813.2L736.5 815.9 M756.0 832.7L751.6 828.4L750.0 825.8 M740.1 830.9L741.3 828.6L744.8 826.4 M760.7 813.9L756.1 817.0L752.2 819.6 M732.4 815.3L733.8 814.2L736.5 815.9 M809.5 882.1L805.5 882.5L802.5 881.3 M799.7 883.5L800.4 882.1L802.5 881.3 M789.0 879.5L789.0 878.3L787.5 877.8 M803.0 812.4L805.8 817.2L806.2 819.5 M821.5 815.2L819.5 816.5L818.7 816.5 M806.2 819.5L811.7 816.9L818.7 816.5 M825.4 824.3L819.3 826.7L813.6 828.6 M818.7 816.5L817.5 821.5L813.6 828.6 M768.1 840.0L776.4 840.7L783.4 841.6 M770.2 851.7L774.1 851.0L780.3 847.5 M780.3 847.5L782.4 843.4L783.4 841.6 M779.5 830.8L782.8 834.8L783.7 841.1 M780.3 847.5L781.1 851.6L784.3 856.6 M780.6 866.7L783.8 860.3L784.3 856.6 M787.5 877.8L788.2 874.2L786.4 870.0 M780.6 866.7L782.2 868.5L786.4 870.0 M788.9 841.3L789.5 848.7L790.3 855.8 M788.9 841.3L787.1 841.7L783.7 841.1 M784.3 856.6L788.8 855.2L790.3 855.8 M811.7 835.8L807.8 840.6L801.9 845.9 M811.7 835.8L811.9 834.4L810.4 830.7 M810.4 830.7L809.3 827.2L805.2 825.1 M793.7 840.7L797.7 844.6L801.9 845.9 M793.7 840.7L796.6 834.0L796.7 828.0 M796.7 828.0L802.3 826.2L805.2 825.1 M822.6 840.0L816.8 838.7L811.7 835.8 M813.6 828.6L811.9 829.5L810.4 830.7 M806.2 819.5L805.4 822.1L805.2 825.1 M794.0 826.0L794.3 825.7L796.7 828.0 M788.9 841.3L792.1 841.2L793.7 840.7 M800.3 869.6L798.8 869.1L796.2 866.8 M800.3 869.6L803.3 867.5L807.8 867.0 M796.2 866.8L796.1 861.4L797.2 857.1 M807.8 867.0L807.9 859.3L806.5 852.3 M797.2 857.1L799.6 854.2L803.1 850.4 M803.1 850.4L803.9 850.2L806.5 852.3 M802.5 881.3L802.0 876.2L800.3 869.6 M786.4 870.0L790.7 868.8L796.2 866.8 M816.8 869.1L810.9 867.7L807.8 867.0 M790.3 855.8L794.0 855.7L797.2 857.1 M813.9 853.7L809.7 853.3L806.5 852.3 M801.9 845.9L802.8 847.1L803.1 850.4 M766 805.5 L801.5 806.5" fill="none" stroke="#b4b4b4" stroke-width="0.8" stroke-linecap="round"/><path d="M802 748 L801.5 806.7 L809 807 M829 812.5 L823 818 L815 826 L803 831.7 L802.5 838 L801.7 846.7 L798.3 850.8 M798.3 850.8 L791.7 850.8 L790 856.7 L783.3 861.7 L778.3 866.7 L775.8 871.7 M798.3 850.8 L803.3 851.7 L810 858.3 L816.7 863.3 L823.3 866.7 L830 864.2 L833.3 861.7 L838.3 866.7 L842.5 866.7 L844.2 876.7 L844.2 882.5 M855.8 893.3 L865 892.5 L866.7 886.7 L871.7 883.3 L872.5 873.3 L873.3 870 L883.3 869.2 L890 861.7 L895 863.3 L900 866.7 L900.2 866.8 L913.5 857.4 L921.5 846.8 L926.9 840.1 L940.2 842.8 L953.6 838.8 L966.9 833.4 L978.9 833.4 M902.9 948.2 L905.5 945.5 L918.9 952.2 L934.9 950.9 L945.6 956.2 L956.2 958.9 L960.2 953.5 M922.9 804.1 L922.9 840.1" fill="none" stroke="#fafafa" stroke-width="3" opacity="0.8"/><path d="M802 748 L801.5 806.7 L809 807 M829 812.5 L823 818 L815 826 L803 831.7 L802.5 838 L801.7 846.7 L798.3 850.8 M798.3 850.8 L791.7 850.8 L790 856.7 L783.3 861.7 L778.3 866.7 L775.8 871.7 M798.3 850.8 L803.3 851.7 L810 858.3 L816.7 863.3 L823.3 866.7 L830 864.2 L833.3 861.7 L838.3 866.7 L842.5 866.7 L844.2 876.7 L844.2 882.5 M855.8 893.3 L865 892.5 L866.7 886.7 L871.7 883.3 L872.5 873.3 L873.3 870 L883.3 869.2 L890 861.7 L895 863.3 L900 866.7 L900.2 866.8 L913.5 857.4 L921.5 846.8 L926.9 840.1 L940.2 842.8 L953.6 838.8 L966.9 833.4 L978.9 833.4 M902.9 948.2 L905.5 945.5 L918.9 952.2 L934.9 950.9 L945.6 956.2 L956.2 958.9 L960.2 953.5 M922.9 804.1 L922.9 840.1" fill="none" stroke="#8f8f8f" stroke-width="1.2"/>
<g filter="url(#bl)" opacity="0.75"><path d="M573.4 497.1 L569.1 483 L563.7 470 L564.8 454.8 L570.2 444 L576.7 433.2 L585.3 422.3 L594 413.7 L609.2 408.2 L626.5 400.7 L637.3 389.8 L638.4 381.2 L641.7 376.8 L646 381.2 L659 377.9 L676.3 374.7 L689.3 374.7 L702.3 380.1 L717.5 381.2 L721.8 374.7 L728.3 375.8 L737 382.2 L745.7 389.8 L763 388.8 L773.8 392 L780.3 386.6 L793.3 388.8 L803.1 395.2 L801.7 390 L795 388.3 L788.3 380 L791.7 373.3 L796.7 368.3 L785 366.7 L791.7 361.7 L798.3 358.3 L805 354.2 L821.7 353.3 L831.7 353.3 L836.7 345 L840 353.3 L846.7 356.7 L853.3 355 L861.7 350.8 L873.3 352.5 L886.7 352.5 L900 360 L910 368.3 L915 376.7 L923.3 375 L935 370 L943.3 364.2 L951.7 364.2 L960 370 L968.3 378.3 L975.8 386.7" fill="none" stroke="#fff" stroke-width="7"/><path d="M715.5 848.1 L734.7 861.4 L758.7 870.8 L780.1 876.1 L801.4 884.1 L814.8 886.8 L833.5 888.1 L844.1 885.5 L846.8 894.8 L854.8 900.2 L865.5 910.8 L876.2 924.2 L886.8 934.9 L897.5 945.5 L900.2 953.5 L897.5 966.9 L900.2 977.6 L913.5 985.6 L924.2 982.9 L934.9 990.9 L945.6 996.2 L956.2 1004.3 L960.2 1017.6 L966.9 1025.6 L978.9 1028.3 M978.9 828.1 L966.9 825.4 L953.6 820.1 L940.2 810.7 L922.9 804.1 L913.5 805.4 L892.2 806.7 L881.5 810.7 L860.2 809.4 L844.1 806.7 L828.1 808.1 L812.1 806.7 L815 806.7 L817 801.7 L821 793 L825 783 L828.3 772 L830 760 L835 750 L838 742" fill="none" stroke="#fff" stroke-width="7"/></g>
<g font-family="'DejaVu Sans Condensed','DejaVu Sans','Liberation Sans',sans-serif">
<text x="535" y="71" font-size="16.4" fill="#9e9e9e" text-anchor="middle" stroke="#ececec" stroke-width="2" paint-order="stroke">Kansas</text>
<text x="707" y="80" font-size="16.4" fill="#9e9e9e" text-anchor="middle" stroke="#ececec" stroke-width="2" paint-order="stroke">Misuri</text>
<text x="926" y="97" font-size="16.4" fill="#9e9e9e" text-anchor="middle" stroke="#ececec" stroke-width="2" paint-order="stroke">Kentucky</text>
<text x="564" y="179" font-size="16.4" fill="#9e9e9e" text-anchor="middle" stroke="#ececec" stroke-width="2" paint-order="stroke">Oklahoma</text>
<text x="886" y="170" font-size="16.4" fill="#9e9e9e" text-anchor="middle" stroke="#ececec" stroke-width="2" paint-order="stroke">Tennessee</text>
<text x="162" y="214" font-size="16.4" fill="#9e9e9e" text-anchor="middle" stroke="#ececec" stroke-width="2" paint-order="stroke">Arizona</text>
<text x="320" y="204" font-size="16.4" fill="#9e9e9e" text-anchor="middle" stroke="#ececec" stroke-width="2" paint-order="stroke">Nuevo</text>
<text x="320" y="224" font-size="16.4" fill="#9e9e9e" text-anchor="middle" stroke="#ececec" stroke-width="2" paint-order="stroke">México</text>
<text x="707" y="205" font-size="16.4" fill="#9e9e9e" text-anchor="middle" stroke="#ececec" stroke-width="2" paint-order="stroke">Arkansas</text>
<text x="784" y="248" font-size="16.4" fill="#9e9e9e" text-anchor="middle" stroke="#ececec" stroke-width="2" paint-order="stroke">Misisipi</text>
<text x="872" y="274" font-size="16.4" fill="#9e9e9e" text-anchor="middle" stroke="#ececec" stroke-width="2" paint-order="stroke">Alabama</text>
<text x="513" y="326" font-size="16.4" fill="#9e9e9e" text-anchor="middle" stroke="#ececec" stroke-width="2" paint-order="stroke">Tejas</text>
<text x="714" y="344" font-size="16.4" fill="#9e9e9e" text-anchor="middle" stroke="#ececec" stroke-width="2" paint-order="stroke">Luisiana</text>
<text x="938.5" y="295" font-size="16.4" fill="#9e9e9e">Georgia</text></g>
<g font-family="'DejaVu Sans Condensed','DejaVu Sans','Liberation Sans',sans-serif">
<text x="61" y="358" font-size="17.3" fill="#8e8e8e" text-anchor="middle" >Baja</text>
<text x="61" y="378" font-size="17.3" fill="#8e8e8e" text-anchor="middle" >California</text>
<text x="186" y="389" font-size="17.2" fill="#8e8e8e" text-anchor="middle" >Sonora</text>
<text x="319" y="417" font-size="17.2" fill="#8e8e8e" text-anchor="middle" >Chihuahua</text>
<text x="152" y="493" font-size="17.2" fill="#8e8e8e" text-anchor="middle" >Baja California</text>
<text x="152" y="515" font-size="17.2" fill="#8e8e8e" text-anchor="middle" >Sur</text>
<text x="435" y="444" font-size="17.2" fill="#8e8e8e" text-anchor="middle" >Coahuila de</text>
<text x="435" y="467" font-size="17.2" fill="#8e8e8e" text-anchor="middle" >Zaragoza</text>
<text x="277" y="527" font-size="17.2" fill="#8e8e8e" text-anchor="middle" >Sinaloa</text>
<text x="353" y="534" font-size="17.2" fill="#8e8e8e" text-anchor="middle" >Durango</text>
<text x="491" y="507" font-size="17.2" fill="#8e8e8e" text-anchor="middle" >Nuevo León</text>
<text x="527" y="560" font-size="17.2" fill="#8e8e8e" text-anchor="middle" >Tamaulipas</text>
<text x="348" y="622" font-size="17.2" fill="#8e8e8e" text-anchor="middle" >Nayarit</text>
<text x="387" y="673" font-size="17.2" fill="#8e8e8e" text-anchor="middle" >Jalisco</text>
<text x="497" y="757" font-size="17.2" fill="#8e8e8e" text-anchor="middle" >Guerrero</text>
<text x="592" y="776" font-size="17.2" fill="#8e8e8e" text-anchor="middle" >Oaxaca</text>
<text x="708" y="790" font-size="17.2" fill="#8e8e8e" text-anchor="middle" >Chiapas</text>
<text x="808" y="660" font-size="17.2" fill="#8e8e8e" text-anchor="middle" >Yucatán</text>
<text x="765" y="714" font-size="17.2" fill="#8e8e8e" text-anchor="middle" >Campeche</text>
<text x="588" y="685" font-size="18.2" fill="#8e8e8e" text-anchor="middle" >Veracruz</text>
<text x="587" y="705" font-size="18.2" fill="#8e8e8e" text-anchor="middle" >de Ignacio</text>
<text x="588" y="725" font-size="18.2" fill="#8e8e8e" text-anchor="middle" >de la Llave</text>
<text x="447" y="595" font-size="23" fill="#8e8e8e" text-anchor="middle" >Mexico</text>
</g>
<path d="M227.5 485.8 L223.3 491.7 L221.7 498.3 L223.3 505 L231.7 511.7 L237.5 510.8 L241.7 516.7 L250 520.8 L256.7 525 L260.8 533.3 L261.7 538.3 L270 544.2 L276.7 548.3 L286.7 558.3 L296.7 570 L306.7 585 L316.7 596.7 L325 605 L328.3 611.7 L330 619.8 L330.8 615 L333.3 626.7 L340.8 638.3 L340 646.7 L333.3 658.3 L335 660 L340 661.2 L350 676.7 L400 660 L441.7 653.3 L458.3 660 L476.7 693.3 L493.3 695 L518.3 690 L535 698.3 L551.7 690 L553.3 670 L560 653.3 L553.3 636.7 L550 623.3 L540 590 L520 520 L500 470 L496.7 440 L491.7 431.7 L485 421.7 L480 411.7 L475 401.7 L470 393.3 L463.3 387.5 L455 379.2 L448.3 373.3 L435 373.3 L425 370 L423.3 372.5 L415 374.2 L410.8 381.7 L407.5 390.8 L401.7 398.3 L396.7 398.3 L380 420 L360 440 L320 440 L280 440 L252 445 L248.3 464.2 L243.3 475 L237.5 478.3 L236.7 482.5 L231.7 484.2Z M66.7 282.5 L62.5 285 L60.8 290.8 L63.3 302.5 L71.7 308.3 L80 313.3 L88.3 315.8 L93.3 313.3 L100 317.5 L102.5 322.5 L110 324.2 L115 330 L115.8 341.7 L123.3 353.3 L125.8 366.7 L131.7 375 L136.7 388.3 L141.7 393.3 L142.5 400 L150.8 405.8 L156.7 418.3 L165 424.2 L173.3 433.3 L180.8 435.8 L187.5 435.8 L186.7 443.3 L190.8 453.3 L206.7 460 L210.8 470 L214.2 474.2 L219.2 473.3 L225.8 479.2 L227.5 485.8 L231.7 484.2 L236.7 482.5 L237.5 478.3 L243.3 475 L248.3 464.2 L244.2 459.2 L241.7 446.7 L236.7 436.7 L232.5 424.2 L231.7 423.3 L247.5 420 L246.7 406.7 L241.7 396.7 L241.7 383.3 L244.2 373.3 L245.8 356.7 L244.2 350.8 L236.7 343.3 L235 336.7 L239.2 334.2 L240 325.8 L238.3 321.7 L172.5 321.2Z M132.5 393.3 L140 392.5 L141.7 398.3 L138.3 406.7 L131.7 403.3Z M84.2 431.7 L85.8 435.8 L82.5 439.2 L80.8 435.8 L75 438.3 L60 437.5 L62.5 441.7 L75 451.7 L75.8 456.7 L85.8 460.8 L95.8 469.2 L101.7 473.3 L107.5 470.8 L113.3 465 L114.2 470 L123.3 480 L130 486.7 L136.7 490 L142.5 498.3 L145 508.3 L144.2 520 L139.2 534.2 L142.5 535 L143.3 540 L150 543.3 L158.3 543.3 L166.7 550 L181.7 561.7 L195 573.3 L200.8 585 L205.8 595 L210 593.3 L219.2 585 L221.7 578.3 L218.3 572.5 L212.5 568.3 L210 560 L205.8 557.5 L200 550 L196.7 549.2 L192.5 555 L186.7 550 L183.3 540 L185.8 533.3 L181.7 525 L175 513.3 L171.7 508.3 L166.7 501.7 L165 490 L161.7 480 L155 473.3 L148.3 465 L144.2 460 L140 455 L136.7 446.7 L130 441.7 L125 436.7 L124.2 431.7Z M150 469.2 L153.3 468.3 L156.7 475 L154.2 478.3 L150.8 473.3Z M184.2 525.8 L187.5 526.7 L189.7 530.8 L186.7 531.3Z M150 543.3 L155 545.8 L154.7 548.7 L148.3 544.7Z M360.8 707.5 L366.7 705 L373.3 703.3 L376.7 700 L386.7 700 L390.8 703.3 L392.5 709.2 L395 713.3 L390 717.5 L385 722.5 L378.3 718.3 L370 712.5Z M429.2 745.8 L433.3 748.3 L441.7 753.3 L450 759.8 L460 765 L470 770 L481.7 773.3 L493.3 778.3 L510 785 L525 790 L534.2 795 L538.3 793.3 L540 790 L542.5 783.3 L546.7 780 L547.5 773.3 L543.3 770 L541.7 765 L538.3 756.7 L536.7 748.3 L531.7 745 L526.7 743.3 L521.7 736.7 L523.3 730 L527.5 726.7 L529.2 715 L525.8 715 L524.2 710 L516.7 710 L510 713.3 L506.7 720 L493.3 720 L486 708 L462 710 L455 730 L450 720 L426.7 726.7Z M661.7 738.3 L675 735 L686.7 731.7 L700 729.2 L701.7 725.8 L708.3 725 L720 723.3 L726.7 723.7 L736.7 718.7 L743.3 715.8 L753.3 705 L760 696.7 L761.7 688.3 L764.2 685 L765 673.3 L767.5 656.7 L771.7 650.8 L781.7 645.8 L795 642.5 L806.7 640.8 L818.3 637.5 L831.7 633.3 L843.3 634.2 L850 638.3 L856.7 639.2 L858.3 635.8 L863.3 634.2 L866.7 638.3 L869.2 644.2 L871.7 648.3 L868.3 656.7 L863.3 665 L856.7 673.3 L851.7 683.3 L850.8 690.8 L843.3 695 L845 698.3 L853.3 695.8 L852.5 701.7 L846.7 705 L845.8 708.3 L850.8 705.8 L848.3 715 L844.2 725 L840 738.3 L836.7 730 L835 719.2 L831.7 725 L826.7 730 L821.7 730.8 L817.5 738.3 L813.3 746.7 L806.7 744.2 L803.3 745 L802.5 749.2 L750.8 749.2 L750.8 765.8 L740 765.8 L740 765.8 L728.3 763.3 L703.3 766.7 L683.3 755 L675 760 L670 755 L665 750 L660.8 744.2Z M865 669.2 L870 665.8 L872.5 665.8 L868.3 671.7 L865 674.2Z M0 280.3 L68.3 275.3 L66.7 281.7 L62.5 285 L60.8 290.8 L63.3 302.5 L70.8 309.2 L67.5 312.5 L65 325 L68.3 335 L71.7 353.3 L73.3 361.7 L81.7 373.3 L93.3 383.3 L100.8 391.7 L104.2 400 L113.3 406.7 L119.2 416.7 L122.5 418.3 L124.2 431.7 L85 431.7 L88.3 420 L85 411.7 L73.3 398.3 L63.3 387.5 L51.7 382.5 L41.7 375 L38.3 366.7 L37.5 355 L30.8 348.3 L23.3 333.3 L14.2 311.7 L13.3 305 L6.7 295.8 L0.8 282.5Z M101.7 383.3 L105 380.8 L113.3 391.7 L115.8 398.3 L111.7 395.8 L106.7 391.7Z M54.2 420 L55.8 425 L55.8 430 L51.7 429.2Z M255.8 306.7 L306.7 306.7 L311.7 311.7 L316.7 318.3 L325 323.3 L333.3 331.7 L340 338.3 L348.3 342.5 L353.3 350 L358.3 360 L361.7 371.7 L370 381.7 L380 388.3 L390 393.3 L396.7 398.3 L390 411.7 L383.3 425 L379.2 435 L380.8 443.3 L380 453.3 L383.3 463.3 L380.8 468.3 L385 472.5 L375 473.3 L370 475 L365 480 L360 484.2 L354.2 478.3 L345 480 L336.7 476.7 L330 475.8 L320 470.8 L316.7 470 L313.3 476.7 L308.3 486.7 L304.2 498.3 L303.3 505 L298.3 510 L293.3 507.5 L283.3 498.3 L276.7 493.3 L262.5 481.7 L260.8 471.7 L256.7 466.7 L255 463.3 L248.3 464.2 L244.2 459.2 L241.7 446.7 L236.7 436.7 L232.5 424.2 L247.5 420 L246.7 406.7 L241.7 396.7 L241.7 383.3 L244.2 373.3 L245.8 356.7 L244.2 350.8 L236.7 343.3 L235 336.7 L239.2 334.2 L240 325.8 L238.3 321.7 L255.8 320.8Z M496.7 440 L491.7 442.5 L485.8 438.3 L480 450 L470 454.2 L467.5 459.2 L470.8 463.3 L475.8 462.5 L475.8 470 L470.8 475 L466.7 472.5 L457.5 484.2 L463.3 495 L467.5 496.7 L466.7 501.7 L472.5 510 L478.3 515 L484.2 517.5 L483.3 521.7 L473.3 521.7 L468.3 525 L468.3 533.3 L470.8 541.7 L470 545 L474.2 548.3 L475 561.7 L478.3 575 L478.3 583.3 L483.3 581.7 L488.3 583.3 L490 595 L493.3 598.3 L504.2 601.7 L505.8 600 L509.2 601.7 L513.3 608.3 L523.3 609.2 L535 610 L543.3 607.5 L550 610 L555 614.2 L553.3 608.3 L554.2 600 L555.8 583.3 L556.7 566.7 L558.3 550 L561.7 533.3 L566.7 520 L572.5 510 L573.3 500 L573.3 497.5 L566.7 500 L561.7 496.7 L555 493.3 L546.7 490.8 L538.3 488.3 L530 485 L521.7 481.7 L516.7 476.7 L511.7 466.7 L506.7 456.7 L505 446.7Z M329.2 670 L340 661.7 L346.7 655 L353.3 652.5 L360 655.8 L366.7 660 L370 658.3 L370.7 648.7 L371.3 647.3 L377.3 646 L384.7 644.7 L384.7 641.3 L386 638.7 L381.3 635.3 L379.3 630 L372 623.3 L367.3 621.3 L366.7 616.7 L370.7 612.7 L372 608 L374.7 607.3 L376 603.3 L375.3 599.3 L383.3 598.7 L384.7 602 L381.3 606 L380 611.3 L381.3 615.3 L383.3 606 L386 604 L388.7 605.3 L387.3 612.7 L388 616.7 L393.3 618 L396.7 614 L395.3 610.7 L398.7 609.3 L403.3 612.7 L403.3 616.7 L400 620.7 L395.3 623.3 L392 627.3 L388.7 632 L392 638 L390.7 640 L388.7 643.3 L389.3 648.7 L396 650.7 L402.7 650 L404 646 L410.7 643.3 L415.3 640 L416 635.3 L413.3 633.3 L412 630.7 L414.7 629.3 L418.7 632.7 L424 631.3 L430.7 628 L437.3 622.7 L440 622 L445.3 627.3 L447.3 628 L445 633.3 L443.3 640 L440 645 L438.3 651.7 L431.7 660 L435 668.3 L431.7 671.7 L423.3 673.3 L413.3 679.2 L406.7 679.2 L405 683.3 L411.7 685 L413.3 693.3 L418.3 698.3 L416.7 705 L408.3 706.7 L406.7 711.7 L401.7 715.8 L395 713.3 L392.5 709.2 L390.8 703.3 L386.7 700 L376.7 700 L373.3 703.3 L366.7 705 L360.8 707.5 L355 703.3 L348.3 698.3 L340 691.7 L333.3 680Z M405 683.3 L406.7 679.2 L413.3 679.2 L423.3 673.3 L431.7 671.7 L435 675 L441.7 676.7 L446.7 673.3 L450.8 675 L451.7 681.7 L456.7 683.3 L466.7 685 L473.3 684.2 L480.8 683.3 L480 678.3 L485 675.8 L491.7 683.7 L489.2 691.7 L490 700 L485 708.3 L475 716.7 L470 718.3 L468.3 723.3 L470 728.3 L474.2 731.7 L471.7 733.3 L466.7 730 L460 728.3 L450 728.3 L441.7 726.7 L437.5 730 L436.7 736.7 L430 740 L429.2 745.8 L420 741.7 L408.3 736.7 L396.7 731.7 L388.3 726.7 L385 722.5 L390 717.5 L395 713.3 L401.7 715.8 L406.7 711.7 L408.3 706.7 L416.7 705 L418.3 698.3 L413.3 693.3 L411.7 685Z M446.7 627.5 L453.3 628.3 L460 629.2 L466.7 631.7 L473.3 635 L478.3 632.5 L485 631.7 L491.7 636.7 L491.7 638.3 L498.3 638.3 L499.2 643.3 L495 648.3 L485 653.3 L477.5 656.7 L475 661.7 L480 671.7 L486.7 676.7 L485 681.7 L485 675.8 L480 678.3 L480.8 683.3 L473.3 684.2 L466.7 685 L456.7 683.3 L451.7 681.7 L450.8 675 L446.7 673.3 L441.7 676.7 L435 675 L431.7 671.7 L435 668.3 L431.7 660 L438.3 651.7 L440 645 L443.3 640 L445 633.3Z M494.2 675.8 L500 679.2 L504.2 678.3 L507.5 685 L508.3 688.3 L513.3 687.5 L516.7 683.3 L520 685.8 L520.8 682.5 L523.3 687.5 L528.3 688.3 L530.8 691.7 L530 700 L529.2 715 L525.8 715 L524.2 708.3 L520.8 701.7 L517.5 697.5 L514.2 699.2 L510.8 703.3 L510 710 L510 716.7 L506.7 720.8 L500 721.7 L493.3 723.3 L488.3 728.3 L481.7 731.7 L478.3 726.7 L478.3 721.7 L475.8 716.7 L481.7 711.7 L483.3 705 L485.8 698.3 L485 693.3 L488.3 688.3 L488.3 682.5 L493.3 680Z M517.5 697.5 L520.8 701.7 L524.2 708.3 L523.3 713.3 L516.7 712.5 L511.7 710 L510.8 703.3 L514.2 699.2Z M510 716.7 L516.7 712.5 L523.3 713.3 L525.8 715 L529.2 715 L527.5 726.7 L523.3 730 L521.7 736.7 L516.7 735 L511.7 728.3 L507.5 724.2 L506.7 720.8Z M555 659.2 L556.7 662.5 L558.3 666.7 L561.7 668.3 L559.2 671.7 L560 676.7 L566.7 680 L570 683.3 L571.7 688.3 L566.7 693.3 L567.5 698.3 L570 701.7 L576.7 705 L575 708.3 L571.7 711.7 L570 716.7 L568.3 721.7 L573.3 725 L576.7 728.3 L583.3 726.7 L586.7 730 L585 733.3 L576.7 736.7 L573.3 739.2 L568.3 740 L563.3 738.3 L558.3 736.7 L555 740 L557.5 743.3 L553.3 745 L546.7 745.8 L541.7 747.5 L536.7 748.3 L531.7 745 L526.7 743.3 L521.7 736.7 L523.3 730 L527.5 726.7 L529.2 715 L530 700 L530.8 695.8 L533.3 700 L538.3 701.7 L543.3 703.3 L546.7 701.7 L553.3 703.3 L558.3 702.5 L555 698.3 L550 695 L543.3 693.3 L541.7 686.7 L545 683.3 L546.7 676.7 L545 673.3 L550 670 L552.5 665 L552.5 660Z M530.8 695.8 L536.7 695 L543.3 693.3 L550 695 L555 698.3 L558.3 702.5 L553.3 703.3 L546.7 701.7 L543.3 703.3 L538.3 701.7 L533.3 700Z M555 614.2 L550 610 L543.3 607.5 L535 610 L538.3 615 L540 620 L533.3 623.3 L535 631.7 L530.8 633.3 L536.7 641.7 L534.2 645 L538.3 648.3 L545 650 L543.3 655 L538.3 660 L534.2 661.7 L535.8 665 L533.3 668.3 L536.7 673.3 L546.7 668.3 L550 663.3 L553.3 658.3 L555 659.2 L556.7 662.5 L558.3 666.7 L561.7 668.3 L559.2 671.7 L560 676.7 L566.7 680 L570 683.3 L571.7 688.3 L566.7 693.3 L567.5 698.3 L570 701.7 L576.7 705 L575 708.3 L571.7 711.7 L570 716.7 L568.3 721.7 L573.3 725 L576.7 728.3 L583.3 726.7 L586.7 730 L588.3 726.7 L593.3 728.3 L598.3 735 L605 740 L610 743.3 L610.8 751.7 L615 756.7 L620 753.3 L626.7 751.7 L630 753.3 L633.3 761.7 L638.3 767.5 L638.3 768.3 L666.7 770.8 L673.3 766.7 L675 760 L670 755 L665 750 L660.8 744.2 L661.7 738.3 L646.7 739.2 L648.3 738.3 L640 728.3 L628.3 723.3 L618.3 718.3 L608.3 711.7 L601.7 701.7 L596.7 691.7 L588.3 681.7 L580 670 L573.3 658.3 L568.3 646.7 L565.8 645 L568.3 635.8 L563.3 630 L558.3 623.3Z M536.7 748.3 L538.3 756.7 L541.7 765 L543.3 770 L547.5 773.3 L546.7 780 L542.5 783.3 L540 790 L538.3 793.3 L534.2 795 L546.7 800.8 L560 806.7 L576.7 811.7 L593.3 814.2 L601.7 813.3 L610 808.3 L620 805 L635 801.7 L648.3 800 L661.7 802.5 L660.8 796.7 L660 790 L663.3 781.7 L666.7 770.8 L638.3 768.3 L638.3 767.5 L633.3 761.7 L630 753.3 L626.7 751.7 L620 753.3 L615 756.7 L610.8 751.7 L610 743.3 L605 740 L598.3 735 L593.3 728.3 L588.3 726.7 L586.7 730 L585 733.3 L576.7 736.7 L573.3 739.2 L568.3 740 L563.3 738.3 L558.3 736.7 L555 740 L557.5 743.3 L553.3 745 L546.7 745.8 L541.7 747.5 L536.7 748.3Z M683.3 745.8 L688.3 747.5 L691.7 753.3 L693.3 758.3 L700 762.5 L705 758.3 L713.3 753.3 L720 748.3 L725 746.7 L728.3 753.3 L733.3 760 L740 766.7 L745 773.3 L753.3 780 L761.7 788.3 L766.7 792.5 L766.7 800.8 L753.3 801.7 L740 802.5 L728.3 803.3 L723.3 811.7 L718.3 821.7 L720 831.7 L717.5 836.7 L715.8 847.5 L706.7 838.3 L698.3 828.3 L686.7 816.7 L676.7 808.3 L668.3 804.2 L661.7 802.5 L660.8 796.7 L660 790 L663.3 781.7 L666.7 770.8 L673.3 766.7 L675 760 L680 753.3Z" fill="#f4f4f4" stroke="#f8f8f8" stroke-width="7" stroke-linejoin="round"/>
<path d="M227.5 485.8 L223.3 491.7 L221.7 498.3 L223.3 505 L231.7 511.7 L237.5 510.8 L241.7 516.7 L250 520.8 L256.7 525 L260.8 533.3 L261.7 538.3 L270 544.2 L276.7 548.3 L286.7 558.3 L296.7 570 L306.7 585 L316.7 596.7 L325 605 L328.3 611.7 L330 619.8 L330.8 615 L333.3 626.7 L340.8 638.3 L340 646.7 L333.3 658.3 L335 660 L340 661.2 L350 676.7 L400 660 L441.7 653.3 L458.3 660 L476.7 693.3 L493.3 695 L518.3 690 L535 698.3 L551.7 690 L553.3 670 L560 653.3 L553.3 636.7 L550 623.3 L540 590 L520 520 L500 470 L496.7 440 L491.7 431.7 L485 421.7 L480 411.7 L475 401.7 L470 393.3 L463.3 387.5 L455 379.2 L448.3 373.3 L435 373.3 L425 370 L423.3 372.5 L415 374.2 L410.8 381.7 L407.5 390.8 L401.7 398.3 L396.7 398.3 L380 420 L360 440 L320 440 L280 440 L252 445 L248.3 464.2 L243.3 475 L237.5 478.3 L236.7 482.5 L231.7 484.2Z" fill="#E9C7C5" stroke="#555d63" stroke-width="1.15" stroke-linejoin="round"/>
<path d="M66.7 282.5 L62.5 285 L60.8 290.8 L63.3 302.5 L71.7 308.3 L80 313.3 L88.3 315.8 L93.3 313.3 L100 317.5 L102.5 322.5 L110 324.2 L115 330 L115.8 341.7 L123.3 353.3 L125.8 366.7 L131.7 375 L136.7 388.3 L141.7 393.3 L142.5 400 L150.8 405.8 L156.7 418.3 L165 424.2 L173.3 433.3 L180.8 435.8 L187.5 435.8 L186.7 443.3 L190.8 453.3 L206.7 460 L210.8 470 L214.2 474.2 L219.2 473.3 L225.8 479.2 L227.5 485.8 L231.7 484.2 L236.7 482.5 L237.5 478.3 L243.3 475 L248.3 464.2 L244.2 459.2 L241.7 446.7 L236.7 436.7 L232.5 424.2 L231.7 423.3 L247.5 420 L246.7 406.7 L241.7 396.7 L241.7 383.3 L244.2 373.3 L245.8 356.7 L244.2 350.8 L236.7 343.3 L235 336.7 L239.2 334.2 L240 325.8 L238.3 321.7 L172.5 321.2Z M132.5 393.3 L140 392.5 L141.7 398.3 L138.3 406.7 L131.7 403.3Z" fill="#E9C7C5" stroke="#555d63" stroke-width="1.15" stroke-linejoin="round"/>
<path d="M84.2 431.7 L85.8 435.8 L82.5 439.2 L80.8 435.8 L75 438.3 L60 437.5 L62.5 441.7 L75 451.7 L75.8 456.7 L85.8 460.8 L95.8 469.2 L101.7 473.3 L107.5 470.8 L113.3 465 L114.2 470 L123.3 480 L130 486.7 L136.7 490 L142.5 498.3 L145 508.3 L144.2 520 L139.2 534.2 L142.5 535 L143.3 540 L150 543.3 L158.3 543.3 L166.7 550 L181.7 561.7 L195 573.3 L200.8 585 L205.8 595 L210 593.3 L219.2 585 L221.7 578.3 L218.3 572.5 L212.5 568.3 L210 560 L205.8 557.5 L200 550 L196.7 549.2 L192.5 555 L186.7 550 L183.3 540 L185.8 533.3 L181.7 525 L175 513.3 L171.7 508.3 L166.7 501.7 L165 490 L161.7 480 L155 473.3 L148.3 465 L144.2 460 L140 455 L136.7 446.7 L130 441.7 L125 436.7 L124.2 431.7Z M150 469.2 L153.3 468.3 L156.7 475 L154.2 478.3 L150.8 473.3Z M184.2 525.8 L187.5 526.7 L189.7 530.8 L186.7 531.3Z M150 543.3 L155 545.8 L154.7 548.7 L148.3 544.7Z" fill="#E9C7C5" stroke="#555d63" stroke-width="1.15" stroke-linejoin="round"/>
<path d="M360.8 707.5 L366.7 705 L373.3 703.3 L376.7 700 L386.7 700 L390.8 703.3 L392.5 709.2 L395 713.3 L390 717.5 L385 722.5 L378.3 718.3 L370 712.5Z" fill="#E9C7C5" stroke="#555d63" stroke-width="1.15" stroke-linejoin="round"/>
<path d="M429.2 745.8 L433.3 748.3 L441.7 753.3 L450 759.8 L460 765 L470 770 L481.7 773.3 L493.3 778.3 L510 785 L525 790 L534.2 795 L538.3 793.3 L540 790 L542.5 783.3 L546.7 780 L547.5 773.3 L543.3 770 L541.7 765 L538.3 756.7 L536.7 748.3 L531.7 745 L526.7 743.3 L521.7 736.7 L523.3 730 L527.5 726.7 L529.2 715 L525.8 715 L524.2 710 L516.7 710 L510 713.3 L506.7 720 L493.3 720 L486 708 L462 710 L455 730 L450 720 L426.7 726.7Z" fill="#E9C7C5" stroke="#555d63" stroke-width="1.15" stroke-linejoin="round"/>
<path d="M661.7 738.3 L675 735 L686.7 731.7 L700 729.2 L701.7 725.8 L708.3 725 L720 723.3 L726.7 723.7 L736.7 718.7 L743.3 715.8 L753.3 705 L760 696.7 L761.7 688.3 L764.2 685 L765 673.3 L767.5 656.7 L771.7 650.8 L781.7 645.8 L795 642.5 L806.7 640.8 L818.3 637.5 L831.7 633.3 L843.3 634.2 L850 638.3 L856.7 639.2 L858.3 635.8 L863.3 634.2 L866.7 638.3 L869.2 644.2 L871.7 648.3 L868.3 656.7 L863.3 665 L856.7 673.3 L851.7 683.3 L850.8 690.8 L843.3 695 L845 698.3 L853.3 695.8 L852.5 701.7 L846.7 705 L845.8 708.3 L850.8 705.8 L848.3 715 L844.2 725 L840 738.3 L836.7 730 L835 719.2 L831.7 725 L826.7 730 L821.7 730.8 L817.5 738.3 L813.3 746.7 L806.7 744.2 L803.3 745 L802.5 749.2 L750.8 749.2 L750.8 765.8 L740 765.8 L740 765.8 L728.3 763.3 L703.3 766.7 L683.3 755 L675 760 L670 755 L665 750 L660.8 744.2Z M865 669.2 L870 665.8 L872.5 665.8 L868.3 671.7 L865 674.2Z" fill="#E9C7C5" stroke="#555d63" stroke-width="1.15" stroke-linejoin="round"/>
<path d="M0 280.3 L68.3 275.3 L66.7 281.7 L62.5 285 L60.8 290.8 L63.3 302.5 L70.8 309.2 L67.5 312.5 L65 325 L68.3 335 L71.7 353.3 L73.3 361.7 L81.7 373.3 L93.3 383.3 L100.8 391.7 L104.2 400 L113.3 406.7 L119.2 416.7 L122.5 418.3 L124.2 431.7 L85 431.7 L88.3 420 L85 411.7 L73.3 398.3 L63.3 387.5 L51.7 382.5 L41.7 375 L38.3 366.7 L37.5 355 L30.8 348.3 L23.3 333.3 L14.2 311.7 L13.3 305 L6.7 295.8 L0.8 282.5Z M101.7 383.3 L105 380.8 L113.3 391.7 L115.8 398.3 L111.7 395.8 L106.7 391.7Z M54.2 420 L55.8 425 L55.8 430 L51.7 429.2Z" fill="#E87C6F" stroke="#555d63" stroke-width="1.15" stroke-linejoin="round"/>
<path d="M255.8 306.7 L306.7 306.7 L311.7 311.7 L316.7 318.3 L325 323.3 L333.3 331.7 L340 338.3 L348.3 342.5 L353.3 350 L358.3 360 L361.7 371.7 L370 381.7 L380 388.3 L390 393.3 L396.7 398.3 L390 411.7 L383.3 425 L379.2 435 L380.8 443.3 L380 453.3 L383.3 463.3 L380.8 468.3 L385 472.5 L375 473.3 L370 475 L365 480 L360 484.2 L354.2 478.3 L345 480 L336.7 476.7 L330 475.8 L320 470.8 L316.7 470 L313.3 476.7 L308.3 486.7 L304.2 498.3 L303.3 505 L298.3 510 L293.3 507.5 L283.3 498.3 L276.7 493.3 L262.5 481.7 L260.8 471.7 L256.7 466.7 L255 463.3 L248.3 464.2 L244.2 459.2 L241.7 446.7 L236.7 436.7 L232.5 424.2 L247.5 420 L246.7 406.7 L241.7 396.7 L241.7 383.3 L244.2 373.3 L245.8 356.7 L244.2 350.8 L236.7 343.3 L235 336.7 L239.2 334.2 L240 325.8 L238.3 321.7 L255.8 320.8Z" fill="#D03F45" stroke="#555d63" stroke-width="1.15" stroke-linejoin="round"/>
<path d="M496.7 440 L491.7 442.5 L485.8 438.3 L480 450 L470 454.2 L467.5 459.2 L470.8 463.3 L475.8 462.5 L475.8 470 L470.8 475 L466.7 472.5 L457.5 484.2 L463.3 495 L467.5 496.7 L466.7 501.7 L472.5 510 L478.3 515 L484.2 517.5 L483.3 521.7 L473.3 521.7 L468.3 525 L468.3 533.3 L470.8 541.7 L470 545 L474.2 548.3 L475 561.7 L478.3 575 L478.3 583.3 L483.3 581.7 L488.3 583.3 L490 595 L493.3 598.3 L504.2 601.7 L505.8 600 L509.2 601.7 L513.3 608.3 L523.3 609.2 L535 610 L543.3 607.5 L550 610 L555 614.2 L553.3 608.3 L554.2 600 L555.8 583.3 L556.7 566.7 L558.3 550 L561.7 533.3 L566.7 520 L572.5 510 L573.3 500 L573.3 497.5 L566.7 500 L561.7 496.7 L555 493.3 L546.7 490.8 L538.3 488.3 L530 485 L521.7 481.7 L516.7 476.7 L511.7 466.7 L506.7 456.7 L505 446.7Z" fill="#E87C6F" stroke="#555d63" stroke-width="1.15" stroke-linejoin="round"/>
<path d="M329.2 670 L340 661.7 L346.7 655 L353.3 652.5 L360 655.8 L366.7 660 L370 658.3 L370.7 648.7 L371.3 647.3 L377.3 646 L384.7 644.7 L384.7 641.3 L386 638.7 L381.3 635.3 L379.3 630 L372 623.3 L367.3 621.3 L366.7 616.7 L370.7 612.7 L372 608 L374.7 607.3 L376 603.3 L375.3 599.3 L383.3 598.7 L384.7 602 L381.3 606 L380 611.3 L381.3 615.3 L383.3 606 L386 604 L388.7 605.3 L387.3 612.7 L388 616.7 L393.3 618 L396.7 614 L395.3 610.7 L398.7 609.3 L403.3 612.7 L403.3 616.7 L400 620.7 L395.3 623.3 L392 627.3 L388.7 632 L392 638 L390.7 640 L388.7 643.3 L389.3 648.7 L396 650.7 L402.7 650 L404 646 L410.7 643.3 L415.3 640 L416 635.3 L413.3 633.3 L412 630.7 L414.7 629.3 L418.7 632.7 L424 631.3 L430.7 628 L437.3 622.7 L440 622 L445.3 627.3 L447.3 628 L445 633.3 L443.3 640 L440 645 L438.3 651.7 L431.7 660 L435 668.3 L431.7 671.7 L423.3 673.3 L413.3 679.2 L406.7 679.2 L405 683.3 L411.7 685 L413.3 693.3 L418.3 698.3 L416.7 705 L408.3 706.7 L406.7 711.7 L401.7 715.8 L395 713.3 L392.5 709.2 L390.8 703.3 L386.7 700 L376.7 700 L373.3 703.3 L366.7 705 L360.8 707.5 L355 703.3 L348.3 698.3 L340 691.7 L333.3 680Z" fill="#D03F45" stroke="#555d63" stroke-width="1.15" stroke-linejoin="round"/>
<path d="M405 683.3 L406.7 679.2 L413.3 679.2 L423.3 673.3 L431.7 671.7 L435 675 L441.7 676.7 L446.7 673.3 L450.8 675 L451.7 681.7 L456.7 683.3 L466.7 685 L473.3 684.2 L480.8 683.3 L480 678.3 L485 675.8 L491.7 683.7 L489.2 691.7 L490 700 L485 708.3 L475 716.7 L470 718.3 L468.3 723.3 L470 728.3 L474.2 731.7 L471.7 733.3 L466.7 730 L460 728.3 L450 728.3 L441.7 726.7 L437.5 730 L436.7 736.7 L430 740 L429.2 745.8 L420 741.7 L408.3 736.7 L396.7 731.7 L388.3 726.7 L385 722.5 L390 717.5 L395 713.3 L401.7 715.8 L406.7 711.7 L408.3 706.7 L416.7 705 L418.3 698.3 L413.3 693.3 L411.7 685Z" fill="#E87C6F" stroke="#555d63" stroke-width="1.15" stroke-linejoin="round"/>
<path d="M446.7 627.5 L453.3 628.3 L460 629.2 L466.7 631.7 L473.3 635 L478.3 632.5 L485 631.7 L491.7 636.7 L491.7 638.3 L498.3 638.3 L499.2 643.3 L495 648.3 L485 653.3 L477.5 656.7 L475 661.7 L480 671.7 L486.7 676.7 L485 681.7 L485 675.8 L480 678.3 L480.8 683.3 L473.3 684.2 L466.7 685 L456.7 683.3 L451.7 681.7 L450.8 675 L446.7 673.3 L441.7 676.7 L435 675 L431.7 671.7 L435 668.3 L431.7 660 L438.3 651.7 L440 645 L443.3 640 L445 633.3Z" fill="#E87C6F" stroke="#555d63" stroke-width="1.15" stroke-linejoin="round"/>
<path d="M494.2 675.8 L500 679.2 L504.2 678.3 L507.5 685 L508.3 688.3 L513.3 687.5 L516.7 683.3 L520 685.8 L520.8 682.5 L523.3 687.5 L528.3 688.3 L530.8 691.7 L530 700 L529.2 715 L525.8 715 L524.2 708.3 L520.8 701.7 L517.5 697.5 L514.2 699.2 L510.8 703.3 L510 710 L510 716.7 L506.7 720.8 L500 721.7 L493.3 723.3 L488.3 728.3 L481.7 731.7 L478.3 726.7 L478.3 721.7 L475.8 716.7 L481.7 711.7 L483.3 705 L485.8 698.3 L485 693.3 L488.3 688.3 L488.3 682.5 L493.3 680Z" fill="#AE324A" stroke="#555d63" stroke-width="1.15" stroke-linejoin="round"/>
<path d="M517.5 697.5 L520.8 701.7 L524.2 708.3 L523.3 713.3 L516.7 712.5 L511.7 710 L510.8 703.3 L514.2 699.2Z" fill="#E87C6F" stroke="#555d63" stroke-width="1.15" stroke-linejoin="round"/>
<path d="M510 716.7 L516.7 712.5 L523.3 713.3 L525.8 715 L529.2 715 L527.5 726.7 L523.3 730 L521.7 736.7 L516.7 735 L511.7 728.3 L507.5 724.2 L506.7 720.8Z" fill="#E9C7C5" stroke="#555d63" stroke-width="1.15" stroke-linejoin="round"/>
<path d="M555 659.2 L556.7 662.5 L558.3 666.7 L561.7 668.3 L559.2 671.7 L560 676.7 L566.7 680 L570 683.3 L571.7 688.3 L566.7 693.3 L567.5 698.3 L570 701.7 L576.7 705 L575 708.3 L571.7 711.7 L570 716.7 L568.3 721.7 L573.3 725 L576.7 728.3 L583.3 726.7 L586.7 730 L585 733.3 L576.7 736.7 L573.3 739.2 L568.3 740 L563.3 738.3 L558.3 736.7 L555 740 L557.5 743.3 L553.3 745 L546.7 745.8 L541.7 747.5 L536.7 748.3 L531.7 745 L526.7 743.3 L521.7 736.7 L523.3 730 L527.5 726.7 L529.2 715 L530 700 L530.8 695.8 L533.3 700 L538.3 701.7 L543.3 703.3 L546.7 701.7 L553.3 703.3 L558.3 702.5 L555 698.3 L550 695 L543.3 693.3 L541.7 686.7 L545 683.3 L546.7 676.7 L545 673.3 L550 670 L552.5 665 L552.5 660Z" fill="#E87C6F" stroke="#555d63" stroke-width="1.15" stroke-linejoin="round"/>
<path d="M530.8 695.8 L536.7 695 L543.3 693.3 L550 695 L555 698.3 L558.3 702.5 L553.3 703.3 L546.7 701.7 L543.3 703.3 L538.3 701.7 L533.3 700Z" fill="#E9C7C5" stroke="#555d63" stroke-width="1.15" stroke-linejoin="round"/>
<path d="M555 614.2 L550 610 L543.3 607.5 L535 610 L538.3 615 L540 620 L533.3 623.3 L535 631.7 L530.8 633.3 L536.7 641.7 L534.2 645 L538.3 648.3 L545 650 L543.3 655 L538.3 660 L534.2 661.7 L535.8 665 L533.3 668.3 L536.7 673.3 L546.7 668.3 L550 663.3 L553.3 658.3 L555 659.2 L556.7 662.5 L558.3 666.7 L561.7 668.3 L559.2 671.7 L560 676.7 L566.7 680 L570 683.3 L571.7 688.3 L566.7 693.3 L567.5 698.3 L570 701.7 L576.7 705 L575 708.3 L571.7 711.7 L570 716.7 L568.3 721.7 L573.3 725 L576.7 728.3 L583.3 726.7 L586.7 730 L588.3 726.7 L593.3 728.3 L598.3 735 L605 740 L610 743.3 L610.8 751.7 L615 756.7 L620 753.3 L626.7 751.7 L630 753.3 L633.3 761.7 L638.3 767.5 L638.3 768.3 L666.7 770.8 L673.3 766.7 L675 760 L670 755 L665 750 L660.8 744.2 L661.7 738.3 L646.7 739.2 L648.3 738.3 L640 728.3 L628.3 723.3 L618.3 718.3 L608.3 711.7 L601.7 701.7 L596.7 691.7 L588.3 681.7 L580 670 L573.3 658.3 L568.3 646.7 L565.8 645 L568.3 635.8 L563.3 630 L558.3 623.3Z" fill="#D03F45" stroke="#555d63" stroke-width="1.15" stroke-linejoin="round"/>
<path d="M536.7 748.3 L538.3 756.7 L541.7 765 L543.3 770 L547.5 773.3 L546.7 780 L542.5 783.3 L540 790 L538.3 793.3 L534.2 795 L546.7 800.8 L560 806.7 L576.7 811.7 L593.3 814.2 L601.7 813.3 L610 808.3 L620 805 L635 801.7 L648.3 800 L661.7 802.5 L660.8 796.7 L660 790 L663.3 781.7 L666.7 770.8 L638.3 768.3 L638.3 767.5 L633.3 761.7 L630 753.3 L626.7 751.7 L620 753.3 L615 756.7 L610.8 751.7 L610 743.3 L605 740 L598.3 735 L593.3 728.3 L588.3 726.7 L586.7 730 L585 733.3 L576.7 736.7 L573.3 739.2 L568.3 740 L563.3 738.3 L558.3 736.7 L555 740 L557.5 743.3 L553.3 745 L546.7 745.8 L541.7 747.5 L536.7 748.3Z" fill="#E87C6F" stroke="#555d63" stroke-width="1.15" stroke-linejoin="round"/>
<path d="M683.3 745.8 L688.3 747.5 L691.7 753.3 L693.3 758.3 L700 762.5 L705 758.3 L713.3 753.3 L720 748.3 L725 746.7 L728.3 753.3 L733.3 760 L740 766.7 L745 773.3 L753.3 780 L761.7 788.3 L766.7 792.5 L766.7 800.8 L753.3 801.7 L740 802.5 L728.3 803.3 L723.3 811.7 L718.3 821.7 L720 831.7 L717.5 836.7 L715.8 847.5 L706.7 838.3 L698.3 828.3 L686.7 816.7 L676.7 808.3 L668.3 804.2 L661.7 802.5 L660.8 796.7 L660 790 L663.3 781.7 L666.7 770.8 L673.3 766.7 L675 760 L680 753.3Z" fill="#AE324A" stroke="#555d63" stroke-width="1.15" stroke-linejoin="round"/>
<path d="M725 725.8 L728.3 722.5 L736.7 719.5 L741.7 720 L742.5 724.2 L738.3 728.3 L731.7 730 L726.7 729.2Z" fill="#ffffff" stroke="#555d63" stroke-width="1"/>
<path d="M290 506.7 L285 510.8 L285 518.3 L288.3 526.7 L295 536.7 L301.7 543.3 L305 550 L311.7 547.5 L316.7 551.7 L320 558.3 L322.5 563.3 L320.8 568.3 L325.8 575 L329.2 585 L336.7 590 L334.2 596.7 L332.5 605 L328.3 605.8 L325.8 605.3 M336.7 590 L349.2 592.5 L350.8 598.3 L347.5 603.3 L351.7 602.5 L358.3 608.3 L363.3 610 L368.3 603.3 M415.3 526.7 L418.7 532.7 L420 543.3 L413.3 546 L404 545.3 L393.3 546.7 L388.7 554 L381.3 560.7 L380.7 570.7 L374.7 576.7 L372.7 584.7 L371.3 592.7 L373.3 596.7 L370 598.7 L368 606 L364 609.3 L360 608.7 M385 472.5 L385 472.5 L394.2 475 L397.5 486.7 L395.8 500 L391.7 510 L395.8 516.7 L390.8 518.3 L398.3 530 L408.3 535 L415.3 526.7 L422.7 524.7 L432 526 L440 531.3 L446.7 535.3 L453.3 534.7 L460 539.3 L468 542 L470.7 544 M470.7 544 L465.3 548.7 L462.7 550 L457.3 554 L456.7 563.3 L446.7 571.3 L440 576.7 L429.3 579.3 L426.7 578 L427.3 584.7 L429.3 592.7 L436 599.3 L440 606 L445.3 603.3 L450.7 598.7 L454.7 602 L452 608.7 L450.7 614 L452 622 L447.3 628 M412 630.7 L409.3 626 L410.7 622 L414.7 616.7 L418.7 611.3 L425.3 608.7 L429.3 611.3 L433.3 615.3 L438 622 L430.7 628 L424 631.3 L418.7 632.7 L414.7 629.3 L412 630.7 M496.7 440.8 L495 445.8 L498.3 451.7 L501.7 463.3 L499.2 466.7 L503.3 468.3 L502.5 474.2 L508.3 476.7 L509.2 485 L515 488.3 L515.8 493.3 L525 494.2 L531.7 495.8 L533.3 512.5 L536.7 513.3 L525 524.2 L516.7 526.7 L514.2 533.3 L508.3 536.7 L499.2 541.7 M499.2 540.8 L503.3 546.7 L502.5 556.7 L506.7 562.5 L496.7 565.8 L492.5 570 L488.3 581.7 M708.3 725 L710 729.2 L715.8 730 L716.7 740 L721.7 742.5 L726.7 745.8 L732.5 746.7 L733.3 740.8 L743.3 743.3 L750 745.8 L750 765.8 M767.5 656.7 L766.7 665.8 L770.8 666.7 L773.3 669.2 L779.2 668.3 L782.5 675 L785 678.3 L789.2 683.3 L791.7 688.3 L795 692.5 L800 696.7 L802.5 700 L803.3 716.7 L803.3 738.3 L801.7 741.7 L803.3 745 M800 696.7 L803.3 694.2 L806.7 691.7 L810.8 687.5 L815.8 681.7 L821.7 678.3 L828.3 675 L835 671.7 L841.7 665 L846.7 656.7 L849.2 650 L849.2 637.5 M498.3 638.3 L500 635 L506.7 638.3 L513.3 632.5 L516.7 633.3 L516.7 645 L510 650 L506.7 660 L503.3 665 L496.7 666.7 L495 675 L486.7 676.7 M516.7 645 L523.3 646.7 L530 641.7 L534.2 645 M469.2 719.2 L471.7 718.3 L475.8 716.7" fill="none" stroke="#555d63" stroke-width="1" stroke-linejoin="round"/>
<g font-family="'DejaVu Sans Condensed','DejaVu Sans','Liberation Sans',sans-serif">
<text x="61" y="358" font-size="17.3" fill="#000" text-anchor="middle" opacity="0.11">Baja</text>
<text x="61" y="378" font-size="17.3" fill="#000" text-anchor="middle" opacity="0.11">California</text>
<text x="186" y="389" font-size="17.2" fill="#000" text-anchor="middle" opacity="0.11">Sonora</text>
<text x="319" y="417" font-size="17.2" fill="#000" text-anchor="middle" opacity="0.11">Chihuahua</text>
<text x="152" y="493" font-size="17.2" fill="#000" text-anchor="middle" opacity="0.11">Baja California</text>
<text x="152" y="515" font-size="17.2" fill="#000" text-anchor="middle" opacity="0.11">Sur</text>
<text x="435" y="444" font-size="17.2" fill="#000" text-anchor="middle" opacity="0.11">Coahuila de</text>
<text x="435" y="467" font-size="17.2" fill="#000" text-anchor="middle" opacity="0.11">Zaragoza</text>
<text x="277" y="527" font-size="17.2" fill="#000" text-anchor="middle" opacity="0.11">Sinaloa</text>
<text x="353" y="534" font-size="17.2" fill="#000" text-anchor="middle" opacity="0.11">Durango</text>
<text x="491" y="507" font-size="17.2" fill="#000" text-anchor="middle" opacity="0.11">Nuevo León</text>
<text x="527" y="560" font-size="17.2" fill="#000" text-anchor="middle" opacity="0.11">Tamaulipas</text>
<text x="348" y="622" font-size="17.2" fill="#000" text-anchor="middle" opacity="0.11">Nayarit</text>
<text x="387" y="673" font-size="17.2" fill="#000" text-anchor="middle" opacity="0.11">Jalisco</text>
<text x="497" y="757" font-size="17.2" fill="#000" text-anchor="middle" opacity="0.11">Guerrero</text>
<text x="592" y="776" font-size="17.2" fill="#000" text-anchor="middle" opacity="0.11">Oaxaca</text>
<text x="708" y="790" font-size="17.2" fill="#000" text-anchor="middle" opacity="0.11">Chiapas</text>
<text x="808" y="660" font-size="17.2" fill="#000" text-anchor="middle" opacity="0.11">Yucatán</text>
<text x="765" y="714" font-size="17.2" fill="#000" text-anchor="middle" opacity="0.11">Campeche</text>
<text x="588" y="685" font-size="18.2" fill="#000" text-anchor="middle" opacity="0.11">Veracruz</text>
<text x="587" y="705" font-size="18.2" fill="#000" text-anchor="middle" opacity="0.11">de Ignacio</text>
<text x="588" y="725" font-size="18.2" fill="#000" text-anchor="middle" opacity="0.11">de la Llave</text>
<text x="447" y="595" font-size="23" fill="#000" text-anchor="middle" opacity="0.10">Mexico</text>
<text x="861" y="838" font-size="19.2" fill="#8c8c8c" text-anchor="middle" stroke="#f4f4f4" stroke-width="3" paint-order="stroke">Honduras</text>
<text x="922" y="903" font-size="19.2" fill="#8c8c8c" text-anchor="middle" stroke="#f4f4f4" stroke-width="3" paint-order="stroke">Nicaragua</text>
<text x="904" y="978" font-size="19" fill="#8c8c8c" stroke="#f4f4f4" stroke-width="3" paint-order="stroke">Costa Rica</text>
</g>
<g font-family="'Liberation Sans',sans-serif" font-size="16" fill="#000" text-anchor="middle">
<text x="60" y="362">7</text><text x="60" y="381.3">0</text>
<text x="186" y="384">1</text><text x="186" y="403.3">0</text>
<text x="319" y="412">15</text><text x="319" y="431.3">3</text>
<text x="152" y="498">0</text><text x="152" y="517.3">0</text>
<text x="434" y="449">5</text><text x="434" y="468.3">0</text>
<text x="277" y="527">5</text><text x="277" y="546.3">0</text>
<text x="353" y="529">5</text><text x="353" y="548.3">1</text>
<text x="491" y="504">9</text><text x="491" y="523.3">2</text>
<text x="527" y="555">8</text><text x="527" y="574.3">0</text>
<text x="406" y="588">5</text><text x="406" y="607.3">1</text>
<text x="459" y="594">1</text><text x="459" y="613.3">0</text>
<text x="420" y="618">1</text><text x="420" y="637.3">0</text>
<text x="347" y="617">3</text><text x="347" y="636.3">0</text>
<text x="387" y="671">13</text><text x="387" y="690.3">0</text>
<text x="463" y="648">8</text><text x="463" y="667.3">2</text>
<text x="491" y="653">6</text><text x="491" y="672.3">0</text>
<text x="514" y="665">5</text><text x="514" y="684.3">0</text>
<text x="444" y="705">10</text><text x="444" y="724.3">0</text>
<text x="496" y="701">21</text><text x="496" y="720.3">0</text>
<text x="517" y="719">0</text><text x="517" y="738.3">0</text>
<text x="548" y="716">12</text><text x="548" y="735.3">0</text>
<text x="588" y="701">13</text><text x="588" y="720.3">2</text>
<text x="493" y="753">5</text><text x="493" y="772.3">1</text>
<text x="592" y="772">9</text><text x="592" y="791.3">2</text>
<text x="703" y="743">3</text><text x="703" y="762.3">0</text>
<text x="707" y="786">25</text><text x="707" y="805.3">1</text>
<text x="764" y="709">2</text><text x="764" y="728.3">0</text>
<text x="808" y="654">6</text><text x="808" y="673.3">0</text>
<text x="821" y="691">2</text><text x="821" y="710.3">0</text>
</g>
</g>
<rect x="-1" y="53.5" width="975.5" height="1016" fill="none" stroke="#d6d6d6" stroke-width="1"/>
</svg>
<div style="position:absolute;left:-4px;top:1046px;font-size:16.4px;line-height:18px;color:#7b7b7b;">© OpenStreetMap</div>
<div class="hd" style="left:997px;top:63.5px;">Entidad</div>
<div class="hd" style="left:1168px;top:44px;">Semana</div>
<div class="hd" style="left:1198.6px;top:65px;">16</div>
<div style="position:absolute;left:987px;top:82px;width:152px;height:1px;background:#cfcfcf;"></div>
<div style="position:absolute;left:1138px;top:83px;width:62px;height:1px;background:#cfcfcf;"></div>
<div class="tbl">
<div class="r">Nacional</div>
<div class="r g">Chiapas</div>
<div class="r">México</div>
<div class="r g">Chihuahua</div>
<div class="r">Jalisco</div>
<div class="r g">Veracruz</div>
<div class="r">Puebla</div>
<div class="r g">Michoacán</div>
<div class="r">Nuevo León</div>
<div class="r g">Oaxaca</div>
<div class="r">Guanajuato</div>
<div class="r g">Tamaulipas</div>
<div class="r">Baja California</div>
<div class="r g">Ciudad de México</div>
<div class="r">Querétaro</div>
<div class="r g">Yucatán</div>
<div class="r">Coahuila</div>
<div class="r g">Durango</div>
<div class="r">Guerrero</div>
<div class="r g">Hidalgo</div>
<div class="r">Sinaloa</div>
<div class="r g">Zacatecas</div>
<div class="r">Nayarit</div>
<div class="r g">Tabasco</div>
<div class="r">Campeche</div>
<div class="r g">Quintana Roo</div>
<div class="r">Aguascalientes</div>
<div class="r g">Colima</div>
<div class="r">San Luis Potosí</div>
<div class="r g">Sonora</div>
<div class="r">Tlaxcala</div>
<div class="r g">Baja California S..</div>
<div class="r">Morelos</div>
</div>
<div style="position:absolute;left:987px;top:1072px;width:152px;height:1px;background:#cfcfcf;"></div>
<div style="position:absolute;left:1138px;top:1073px;width:62px;height:1px;background:#cfcfcf;"></div>
<div class="cap" style="top:1090px;right:972px;">Defunciones maternas semana acumulada 1-16</div>
<div class="cap" style="top:1111px;right:671px;">Fuente: Elaboración OMM con base en Boletines de Epidemiología SSA, 2018.</div>
<div style="position:absolute;left:-120px;top:1133px;width:1062px;height:21px;border:1px solid #aaa698;border-top-width:2px;border-right-width:2px;border-left:none;background:linear-gradient(to right,#ecc0bc 0,#ecc0bc 270px,#e8695b 270px,#e8695b 534px,#cc2024 534px,#cc2024 798px,#9e1030 798px);"></div>
<div style="position:absolute;left:950px;top:1133.5px;font-size:16.6px;color:#5e5e5e;">25</div>
</body></html>
